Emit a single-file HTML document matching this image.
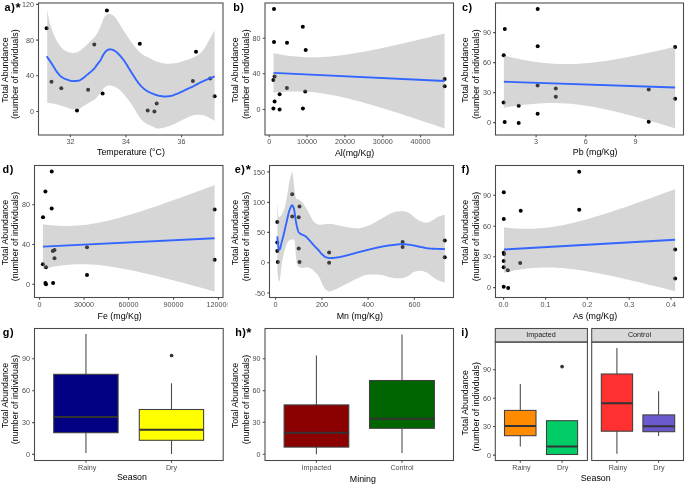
<!DOCTYPE html><html><head><meta charset="utf-8"><style>html,body{margin:0;padding:0;background:#fff;}svg{display:block;will-change:transform;}</style></head><body>
<svg width="685" height="484" viewBox="0 0 685 484" font-family='"Liberation Sans", sans-serif'>
<rect width="685" height="484" fill="#fff"/>
<defs>
<clipPath id="c0"><rect x="0" y="0" width="227.4" height="161.33"/></clipPath>
<clipPath id="c1"><rect x="228.33" y="0" width="228.33" height="161.33"/></clipPath>
<clipPath id="c2"><rect x="456.67" y="0" width="228.33" height="161.33"/></clipPath>
<clipPath id="c3"><rect x="0" y="161.33" width="227.4" height="161.33"/></clipPath>
<clipPath id="c4"><rect x="228.33" y="161.33" width="228.33" height="161.33"/></clipPath>
<clipPath id="c5"><rect x="456.67" y="161.33" width="228.33" height="161.33"/></clipPath>
<clipPath id="c6"><rect x="0" y="322.67" width="227.4" height="161.33"/></clipPath>
<clipPath id="c7"><rect x="228.33" y="322.67" width="228.33" height="161.33"/></clipPath>
<clipPath id="c8"><rect x="456.67" y="322.67" width="228.33" height="161.33"/></clipPath>
</defs>
<g clip-path="url(#c0)">
<circle cx="46.60" cy="28.30" r="2.0" fill="#000"/>
<circle cx="51.50" cy="81.80" r="2.0" fill="#000"/>
<circle cx="61.30" cy="88.30" r="2.0" fill="#000"/>
<circle cx="77.00" cy="110.40" r="2.0" fill="#000"/>
<circle cx="88.10" cy="89.70" r="2.0" fill="#000"/>
<circle cx="94.30" cy="44.60" r="2.0" fill="#000"/>
<circle cx="102.60" cy="93.60" r="2.0" fill="#000"/>
<circle cx="106.90" cy="10.50" r="2.0" fill="#000"/>
<circle cx="139.80" cy="43.80" r="2.0" fill="#000"/>
<circle cx="147.70" cy="110.40" r="2.0" fill="#000"/>
<circle cx="154.40" cy="111.40" r="2.0" fill="#000"/>
<circle cx="156.70" cy="103.40" r="2.0" fill="#000"/>
<circle cx="192.90" cy="81.10" r="2.0" fill="#000"/>
<circle cx="196.00" cy="51.70" r="2.0" fill="#000"/>
<circle cx="210.20" cy="78.50" r="2.0" fill="#000"/>
<circle cx="214.60" cy="96.30" r="2.0" fill="#000"/>
<path d="M47.20,9.50 L47.76,12.95 L48.32,16.11 L48.88,19.05 L49.44,21.73 L50.00,23.92 L50.56,25.71 L51.12,27.29 L51.68,28.81 L52.24,30.39 L52.80,32.01 L53.36,33.60 L53.92,35.06 L54.48,36.37 L55.04,37.58 L55.60,38.73 L56.16,39.80 L56.72,40.81 L57.28,41.77 L57.84,42.68 L58.40,43.54 L58.96,44.36 L59.52,45.12 L60.08,45.82 L60.64,46.49 L61.20,47.15 L61.76,47.78 L62.32,48.37 L62.88,48.92 L63.44,49.42 L64.00,49.86 L64.56,50.24 L65.12,50.60 L65.68,50.93 L66.24,51.25 L66.80,51.53 L67.36,51.78 L67.92,52.00 L68.47,52.17 L69.03,52.31 L69.59,52.44 L70.15,52.56 L70.71,52.68 L71.27,52.77 L71.83,52.84 L72.39,52.89 L72.95,52.90 L73.51,52.88 L74.07,52.84 L74.63,52.77 L75.19,52.68 L75.75,52.57 L76.31,52.44 L76.87,52.31 L77.43,52.16 L77.99,51.94 L78.55,51.64 L79.11,51.27 L79.67,50.85 L80.23,50.40 L80.79,49.94 L81.35,49.49 L81.91,49.06 L82.47,48.62 L83.03,48.15 L83.59,47.67 L84.15,47.18 L84.71,46.68 L85.27,46.17 L85.83,45.66 L86.39,45.15 L86.95,44.61 L87.51,44.07 L88.07,43.52 L88.63,42.96 L89.19,42.41 L89.75,41.85 L90.31,41.29 L90.87,40.74 L91.43,40.20 L91.99,39.66 L92.55,39.11 L93.11,38.55 L93.67,37.95 L94.23,37.33 L94.79,36.71 L95.35,36.05 L95.91,35.36 L96.47,34.59 L97.03,33.74 L97.59,32.75 L98.15,31.65 L98.71,30.48 L99.27,29.25 L99.83,28.02 L100.39,26.71 L100.95,25.34 L101.51,23.94 L102.07,22.50 L102.63,20.91 L103.19,19.41 L103.75,18.22 L104.31,17.21 L104.87,16.32 L105.43,15.62 L105.99,15.18 L106.55,14.82 L107.11,14.49 L107.67,14.22 L108.23,14.00 L108.79,13.86 L109.35,13.80 L109.91,13.84 L110.46,13.98 L111.02,14.20 L111.58,14.47 L112.14,14.79 L112.70,15.12 L113.26,15.47 L113.82,15.93 L114.38,16.49 L114.94,17.14 L115.50,17.84 L116.06,18.59 L116.62,19.37 L117.18,20.14 L117.74,20.93 L118.30,21.80 L118.86,22.73 L119.42,23.70 L119.98,24.68 L120.54,25.66 L121.10,26.62 L121.66,27.54 L122.22,28.42 L122.78,29.28 L123.34,30.13 L123.90,30.97 L124.46,31.81 L125.02,32.64 L125.58,33.48 L126.14,34.31 L126.70,35.15 L127.26,35.99 L127.82,36.83 L128.38,37.67 L128.94,38.49 L129.50,39.31 L130.06,40.12 L130.62,40.91 L131.18,41.70 L131.74,42.47 L132.30,43.25 L132.86,44.01 L133.42,44.75 L133.98,45.48 L134.54,46.20 L135.10,46.90 L135.66,47.60 L136.22,48.29 L136.78,48.97 L137.34,49.63 L137.90,50.26 L138.46,50.86 L139.02,51.42 L139.58,51.95 L140.14,52.46 L140.70,52.96 L141.26,53.43 L141.82,53.88 L142.38,54.30 L142.94,54.70 L143.50,55.06 L144.06,55.39 L144.62,55.70 L145.18,56.00 L145.74,56.27 L146.30,56.54 L146.86,56.80 L147.42,57.05 L147.98,57.31 L148.54,57.57 L149.10,57.85 L149.66,58.13 L150.22,58.43 L150.78,58.73 L151.34,59.04 L151.89,59.34 L152.45,59.64 L153.01,59.94 L153.57,60.21 L154.13,60.48 L154.69,60.72 L155.25,60.94 L155.81,61.16 L156.37,61.38 L156.93,61.59 L157.49,61.79 L158.05,61.99 L158.61,62.18 L159.17,62.36 L159.73,62.52 L160.29,62.67 L160.85,62.81 L161.41,62.93 L161.97,63.03 L162.53,63.13 L163.09,63.22 L163.65,63.32 L164.21,63.40 L164.77,63.49 L165.33,63.56 L165.89,63.61 L166.45,63.66 L167.01,63.69 L167.57,63.70 L168.13,63.70 L168.69,63.69 L169.25,63.67 L169.81,63.64 L170.37,63.61 L170.93,63.58 L171.49,63.54 L172.05,63.50 L172.61,63.46 L173.17,63.41 L173.73,63.36 L174.29,63.29 L174.85,63.21 L175.41,63.11 L175.97,63.01 L176.53,62.89 L177.09,62.77 L177.65,62.64 L178.21,62.51 L178.77,62.38 L179.33,62.24 L179.89,62.10 L180.45,61.94 L181.01,61.77 L181.57,61.60 L182.13,61.41 L182.69,61.23 L183.25,61.04 L183.81,60.85 L184.37,60.67 L184.93,60.49 L185.49,60.32 L186.05,60.16 L186.61,60.00 L187.17,59.84 L187.73,59.67 L188.29,59.51 L188.85,59.34 L189.41,59.16 L189.97,58.97 L190.53,58.77 L191.09,58.55 L191.65,58.31 L192.21,58.07 L192.77,57.80 L193.33,57.53 L193.88,57.25 L194.44,56.95 L195.00,56.65 L195.56,56.33 L196.12,56.02 L196.68,55.69 L197.24,55.37 L197.80,55.04 L198.36,54.70 L198.92,54.34 L199.48,53.95 L200.04,53.53 L200.60,53.07 L201.16,52.56 L201.72,51.96 L202.28,51.29 L202.84,50.57 L203.40,49.79 L203.96,48.97 L204.52,48.13 L205.08,47.28 L205.64,46.39 L206.20,45.43 L206.76,44.42 L207.32,43.37 L207.88,42.31 L208.44,41.26 L209.00,40.24 L209.56,39.21 L210.12,38.19 L210.68,37.16 L211.24,36.14 L211.80,35.14 L212.36,34.17 L212.92,33.22 L213.48,32.29 L214.04,31.39 L214.60,30.50 L214.60,120.80 L214.04,120.47 L213.48,120.14 L212.92,119.82 L212.36,119.50 L211.80,119.19 L211.24,118.88 L210.68,118.58 L210.12,118.28 L209.56,117.97 L209.00,117.67 L208.44,117.37 L207.88,117.09 L207.32,116.82 L206.76,116.57 L206.20,116.33 L205.64,116.08 L205.08,115.83 L204.52,115.59 L203.96,115.38 L203.40,115.20 L202.84,115.07 L202.28,115.00 L201.72,114.96 L201.16,114.93 L200.60,114.90 L200.04,114.88 L199.48,114.86 L198.92,114.84 L198.36,114.82 L197.80,114.81 L197.24,114.80 L196.68,114.80 L196.12,114.81 L195.56,114.86 L195.00,114.94 L194.44,115.06 L193.88,115.20 L193.33,115.36 L192.77,115.53 L192.21,115.71 L191.65,115.90 L191.09,116.08 L190.53,116.26 L189.97,116.45 L189.41,116.66 L188.85,116.88 L188.29,117.12 L187.73,117.37 L187.17,117.63 L186.61,117.89 L186.05,118.16 L185.49,118.43 L184.93,118.69 L184.37,118.95 L183.81,119.22 L183.25,119.50 L182.69,119.78 L182.13,120.06 L181.57,120.35 L181.01,120.64 L180.45,120.92 L179.89,121.21 L179.33,121.49 L178.77,121.76 L178.21,122.04 L177.65,122.32 L177.09,122.60 L176.53,122.88 L175.97,123.16 L175.41,123.43 L174.85,123.70 L174.29,123.96 L173.73,124.21 L173.17,124.46 L172.61,124.69 L172.05,124.93 L171.49,125.16 L170.93,125.39 L170.37,125.62 L169.81,125.83 L169.25,126.04 L168.69,126.24 L168.13,126.43 L167.57,126.61 L167.01,126.78 L166.45,126.96 L165.89,127.13 L165.33,127.29 L164.77,127.45 L164.21,127.60 L163.65,127.74 L163.09,127.86 L162.53,127.98 L161.97,128.07 L161.41,128.16 L160.85,128.24 L160.29,128.32 L159.73,128.40 L159.17,128.46 L158.61,128.52 L158.05,128.56 L157.49,128.59 L156.93,128.60 L156.37,128.51 L155.81,128.29 L155.25,128.00 L154.69,127.67 L154.13,127.33 L153.57,127.03 L153.01,126.78 L152.45,126.54 L151.89,126.30 L151.34,126.07 L150.78,125.83 L150.22,125.60 L149.66,125.35 L149.10,125.09 L148.54,124.83 L147.98,124.55 L147.42,124.25 L146.86,123.94 L146.30,123.62 L145.74,123.28 L145.18,122.92 L144.62,122.53 L144.06,122.12 L143.50,121.68 L142.94,121.19 L142.38,120.65 L141.82,120.05 L141.26,119.41 L140.70,118.73 L140.14,118.02 L139.58,117.28 L139.02,116.52 L138.46,115.71 L137.90,114.82 L137.34,113.87 L136.78,112.89 L136.22,111.89 L135.66,110.91 L135.10,109.95 L134.54,109.04 L133.98,108.16 L133.42,107.29 L132.86,106.42 L132.30,105.57 L131.74,104.74 L131.18,103.92 L130.62,103.11 L130.06,102.32 L129.50,101.55 L128.94,100.79 L128.38,100.05 L127.82,99.32 L127.26,98.59 L126.70,97.88 L126.14,97.18 L125.58,96.47 L125.02,95.77 L124.46,95.06 L123.90,94.36 L123.34,93.69 L122.78,93.04 L122.22,92.43 L121.66,91.86 L121.10,91.33 L120.54,90.82 L119.98,90.32 L119.42,89.85 L118.86,89.40 L118.30,88.98 L117.74,88.59 L117.18,88.23 L116.62,87.87 L116.06,87.53 L115.50,87.19 L114.94,86.88 L114.38,86.60 L113.82,86.36 L113.26,86.17 L112.70,86.03 L112.14,85.89 L111.58,85.77 L111.02,85.65 L110.46,85.55 L109.91,85.47 L109.35,85.42 L108.79,85.40 L108.23,85.44 L107.67,85.57 L107.11,85.79 L106.55,86.09 L105.99,86.44 L105.43,86.84 L104.87,87.26 L104.31,87.71 L103.75,88.27 L103.19,89.05 L102.63,89.95 L102.07,90.83 L101.51,91.58 L100.95,92.29 L100.39,92.99 L99.83,93.67 L99.27,94.35 L98.71,95.04 L98.15,95.79 L97.59,96.55 L97.03,97.28 L96.47,97.94 L95.91,98.48 L95.35,98.92 L94.79,99.32 L94.23,99.67 L93.67,100.01 L93.11,100.36 L92.55,100.69 L91.99,101.02 L91.43,101.33 L90.87,101.64 L90.31,101.95 L89.75,102.26 L89.19,102.57 L88.63,102.90 L88.07,103.24 L87.51,103.58 L86.95,103.93 L86.39,104.28 L85.83,104.63 L85.27,104.98 L84.71,105.34 L84.15,105.69 L83.59,106.04 L83.03,106.38 L82.47,106.75 L81.91,107.17 L81.35,107.60 L80.79,108.02 L80.23,108.40 L79.67,108.71 L79.11,108.92 L78.55,109.01 L77.99,109.07 L77.43,109.11 L76.87,109.16 L76.31,109.19 L75.75,109.22 L75.19,109.25 L74.63,109.27 L74.07,109.29 L73.51,109.30 L72.95,109.30 L72.39,109.28 L71.83,109.21 L71.27,109.10 L70.71,108.96 L70.15,108.78 L69.59,108.59 L69.03,108.37 L68.47,108.15 L67.92,107.92 L67.36,107.70 L66.80,107.48 L66.24,107.27 L65.68,107.09 L65.12,106.92 L64.56,106.74 L64.00,106.57 L63.44,106.39 L62.88,106.21 L62.32,106.03 L61.76,105.86 L61.20,105.68 L60.64,105.51 L60.08,105.35 L59.52,105.18 L58.96,105.02 L58.40,104.87 L57.84,104.72 L57.28,104.57 L56.72,104.42 L56.16,104.27 L55.60,104.13 L55.04,103.99 L54.48,103.85 L53.92,103.73 L53.36,103.62 L52.80,103.52 L52.24,103.42 L51.68,103.34 L51.12,103.25 L50.56,103.17 L50.00,103.09 L49.44,103.02 L48.88,102.95 L48.32,102.90 L47.76,102.84 L47.20,102.80 Z" fill="rgba(153,153,153,0.4)" stroke="none"/>
<path d="M46.60,56.20 L47.16,56.99 L47.72,57.79 L48.29,58.59 L48.85,59.40 L49.41,60.22 L49.97,61.05 L50.53,61.89 L51.09,62.74 L51.66,63.60 L52.22,64.46 L52.78,65.33 L53.34,66.22 L53.90,67.15 L54.47,68.10 L55.03,69.03 L55.59,69.94 L56.15,70.81 L56.71,71.62 L57.28,72.36 L57.84,73.08 L58.40,73.78 L58.96,74.45 L59.52,75.08 L60.08,75.67 L60.65,76.19 L61.21,76.64 L61.77,77.02 L62.33,77.38 L62.89,77.71 L63.46,78.03 L64.02,78.32 L64.58,78.59 L65.14,78.84 L65.70,79.08 L66.27,79.30 L66.83,79.51 L67.39,79.70 L67.95,79.90 L68.51,80.10 L69.07,80.30 L69.64,80.48 L70.20,80.66 L70.76,80.81 L71.32,80.93 L71.88,81.03 L72.45,81.09 L73.01,81.10 L73.57,81.09 L74.13,81.07 L74.69,81.05 L75.26,81.01 L75.82,80.96 L76.38,80.91 L76.94,80.84 L77.50,80.77 L78.06,80.69 L78.63,80.61 L79.19,80.49 L79.75,80.28 L80.31,79.99 L80.87,79.66 L81.44,79.29 L82.00,78.89 L82.56,78.50 L83.12,78.12 L83.68,77.72 L84.25,77.28 L84.81,76.82 L85.37,76.35 L85.93,75.86 L86.49,75.37 L87.05,74.89 L87.62,74.42 L88.18,73.96 L88.74,73.51 L89.30,73.05 L89.86,72.59 L90.43,72.12 L90.99,71.64 L91.55,71.14 L92.11,70.62 L92.67,70.10 L93.24,69.56 L93.80,68.99 L94.36,68.38 L94.92,67.70 L95.48,66.94 L96.04,66.13 L96.61,65.36 L97.17,64.59 L97.73,63.83 L98.29,63.08 L98.85,62.36 L99.42,61.71 L99.98,61.03 L100.54,60.13 L101.10,59.07 L101.66,57.91 L102.23,56.76 L102.79,55.70 L103.35,54.75 L103.91,53.85 L104.47,53.04 L105.03,52.28 L105.60,51.55 L106.16,50.96 L106.72,50.57 L107.28,50.24 L107.84,49.94 L108.41,49.68 L108.97,49.48 L109.53,49.35 L110.09,49.30 L110.65,49.33 L111.22,49.43 L111.78,49.57 L112.34,49.76 L112.90,49.98 L113.46,50.22 L114.02,50.48 L114.59,50.74 L115.15,51.06 L115.71,51.44 L116.27,51.89 L116.83,52.39 L117.40,52.92 L117.96,53.47 L118.52,54.02 L119.08,54.58 L119.64,55.17 L120.21,55.80 L120.77,56.46 L121.33,57.14 L121.89,57.84 L122.45,58.56 L123.01,59.29 L123.58,60.03 L124.14,60.81 L124.70,61.61 L125.26,62.44 L125.82,63.30 L126.39,64.19 L126.95,65.10 L127.51,66.03 L128.07,66.95 L128.63,67.87 L129.20,68.77 L129.76,69.67 L130.32,70.58 L130.88,71.48 L131.44,72.38 L132.00,73.27 L132.57,74.15 L133.13,75.03 L133.69,75.91 L134.25,76.79 L134.81,77.68 L135.38,78.55 L135.94,79.42 L136.50,80.26 L137.06,81.06 L137.62,81.83 L138.19,82.57 L138.75,83.30 L139.31,84.00 L139.87,84.69 L140.43,85.35 L140.99,85.97 L141.56,86.56 L142.12,87.11 L142.68,87.64 L143.24,88.15 L143.80,88.64 L144.37,89.10 L144.93,89.54 L145.49,89.95 L146.05,90.34 L146.61,90.70 L147.18,91.03 L147.74,91.35 L148.30,91.66 L148.86,91.95 L149.42,92.23 L149.98,92.50 L150.55,92.76 L151.11,93.02 L151.67,93.26 L152.23,93.50 L152.79,93.73 L153.36,93.97 L153.92,94.20 L154.48,94.42 L155.04,94.63 L155.60,94.83 L156.17,95.02 L156.73,95.20 L157.29,95.37 L157.85,95.51 L158.41,95.65 L158.97,95.77 L159.54,95.87 L160.10,95.97 L160.66,96.05 L161.22,96.14 L161.78,96.23 L162.35,96.31 L162.91,96.38 L163.47,96.44 L164.03,96.48 L164.59,96.50 L165.16,96.50 L165.72,96.48 L166.28,96.45 L166.84,96.41 L167.40,96.37 L167.96,96.31 L168.53,96.25 L169.09,96.19 L169.65,96.11 L170.21,96.04 L170.77,95.96 L171.34,95.85 L171.90,95.70 L172.46,95.53 L173.02,95.34 L173.58,95.13 L174.15,94.91 L174.71,94.69 L175.27,94.46 L175.83,94.24 L176.39,94.03 L176.95,93.81 L177.52,93.58 L178.08,93.35 L178.64,93.11 L179.20,92.87 L179.76,92.62 L180.33,92.37 L180.89,92.11 L181.45,91.85 L182.01,91.59 L182.57,91.33 L183.14,91.05 L183.70,90.77 L184.26,90.49 L184.82,90.20 L185.38,89.91 L185.94,89.62 L186.51,89.33 L187.07,89.05 L187.63,88.78 L188.19,88.52 L188.75,88.26 L189.32,88.01 L189.88,87.77 L190.44,87.52 L191.00,87.28 L191.56,87.04 L192.13,86.79 L192.69,86.53 L193.25,86.27 L193.81,86.00 L194.37,85.71 L194.93,85.42 L195.50,85.11 L196.06,84.80 L196.62,84.49 L197.18,84.18 L197.74,83.87 L198.31,83.57 L198.87,83.27 L199.43,82.99 L199.99,82.71 L200.55,82.44 L201.12,82.17 L201.68,81.90 L202.24,81.64 L202.80,81.38 L203.36,81.12 L203.92,80.87 L204.49,80.62 L205.05,80.37 L205.61,80.12 L206.17,79.88 L206.73,79.64 L207.30,79.40 L207.86,79.17 L208.42,78.94 L208.98,78.70 L209.54,78.47 L210.11,78.24 L210.67,78.00 L211.23,77.76 L211.79,77.52 L212.35,77.28 L212.91,77.03 L213.48,76.79 L214.04,76.55 L214.60,76.30" fill="none" stroke="#3366FF" stroke-width="1.9" stroke-linejoin="round" stroke-linecap="butt"/>
<rect x="38.50" y="3.00" width="184.50" height="132.00" fill="none" stroke="#4A4A4A" stroke-width="1.07"/>
<line x1="36.20" y1="111.50" x2="38.50" y2="111.50" stroke="#4A4A4A" stroke-width="1.07"/>
<text x="34.10" y="114.10" font-size="7.2" fill="#4D4D4D" text-anchor="end">0</text>
<line x1="36.20" y1="75.80" x2="38.50" y2="75.80" stroke="#4A4A4A" stroke-width="1.07"/>
<text x="34.10" y="78.40" font-size="7.2" fill="#4D4D4D" text-anchor="end">40</text>
<line x1="36.20" y1="40.10" x2="38.50" y2="40.10" stroke="#4A4A4A" stroke-width="1.07"/>
<text x="34.10" y="42.70" font-size="7.2" fill="#4D4D4D" text-anchor="end">80</text>
<line x1="36.20" y1="4.40" x2="38.50" y2="4.40" stroke="#4A4A4A" stroke-width="1.07"/>
<text x="34.10" y="7.00" font-size="7.2" fill="#4D4D4D" text-anchor="end">120</text>
<line x1="70.40" y1="135.00" x2="70.40" y2="137.30" stroke="#4A4A4A" stroke-width="1.07"/>
<text x="70.40" y="144.40" font-size="7.2" fill="#4D4D4D" text-anchor="middle">32</text>
<line x1="126.00" y1="135.00" x2="126.00" y2="137.30" stroke="#4A4A4A" stroke-width="1.07"/>
<text x="126.00" y="144.40" font-size="7.2" fill="#4D4D4D" text-anchor="middle">34</text>
<line x1="181.60" y1="135.00" x2="181.60" y2="137.30" stroke="#4A4A4A" stroke-width="1.07"/>
<text x="181.60" y="144.40" font-size="7.2" fill="#4D4D4D" text-anchor="middle">36</text>
<text transform="translate(8.10,70.15) rotate(-90)" font-size="8.85" fill="#000" text-anchor="middle">Total Abundance</text>
<text transform="translate(18.30,74.15) rotate(-90)" font-size="8.85" fill="#000" text-anchor="middle">(number of individuals)</text>
<text x="131.00" y="155.20" font-size="8.85" fill="#000" text-anchor="middle">Temperature (°C)</text>
<text x="4.60" y="10.60" font-size="10.8" font-weight="bold" fill="#000" letter-spacing="0.55">a)</text>
<text x="15.60" y="11.50" font-size="13.2" font-weight="bold" fill="#000">*</text>
</g>
<g clip-path="url(#c1)">
<circle cx="274.00" cy="9.00" r="2.0" fill="#000"/>
<circle cx="302.80" cy="26.80" r="2.0" fill="#000"/>
<circle cx="274.00" cy="41.90" r="2.0" fill="#000"/>
<circle cx="287.00" cy="42.70" r="2.0" fill="#000"/>
<circle cx="305.70" cy="49.90" r="2.0" fill="#000"/>
<circle cx="274.60" cy="76.50" r="2.0" fill="#000"/>
<circle cx="273.40" cy="80.10" r="2.0" fill="#000"/>
<circle cx="286.90" cy="88.10" r="2.0" fill="#000"/>
<circle cx="305.20" cy="91.60" r="2.0" fill="#000"/>
<circle cx="279.60" cy="94.20" r="2.0" fill="#000"/>
<circle cx="274.60" cy="101.40" r="2.0" fill="#000"/>
<circle cx="273.40" cy="108.50" r="2.0" fill="#000"/>
<circle cx="279.60" cy="109.50" r="2.0" fill="#000"/>
<circle cx="302.90" cy="108.50" r="2.0" fill="#000"/>
<circle cx="444.60" cy="78.90" r="2.0" fill="#000"/>
<circle cx="444.60" cy="86.20" r="2.0" fill="#000"/>
<path d="M273.50,53.16 L276.40,53.73 L279.30,54.26 L282.20,54.76 L285.10,55.22 L288.00,55.63 L290.90,56.01 L293.80,56.33 L296.70,56.62 L299.60,56.85 L302.50,57.04 L305.40,57.18 L308.30,57.27 L311.20,57.31 L314.10,57.31 L317.00,57.26 L319.90,57.16 L322.80,57.03 L325.70,56.85 L328.60,56.63 L331.50,56.37 L334.40,56.08 L337.30,55.76 L340.20,55.41 L343.10,55.03 L346.00,54.62 L348.90,54.19 L351.80,53.74 L354.70,53.26 L357.60,52.77 L360.50,52.26 L363.40,51.73 L366.30,51.19 L369.20,50.63 L372.10,50.06 L375.00,49.48 L377.90,48.89 L380.80,48.29 L383.70,47.68 L386.60,47.06 L389.50,46.43 L392.40,45.79 L395.30,45.15 L398.20,44.50 L401.10,43.84 L404.00,43.18 L406.90,42.51 L409.80,41.84 L412.70,41.16 L415.60,40.48 L418.50,39.80 L421.40,39.11 L424.30,38.42 L427.20,37.72 L430.10,37.02 L433.00,36.32 L435.90,35.61 L438.80,34.90 L441.70,34.19 L444.60,33.48 L444.60,128.52 L441.70,127.53 L438.80,126.55 L435.90,125.57 L433.00,124.59 L430.10,123.61 L427.20,122.63 L424.30,121.66 L421.40,120.70 L418.50,119.73 L415.60,118.77 L412.70,117.82 L409.80,116.86 L406.90,115.92 L404.00,114.98 L401.10,114.04 L398.20,113.11 L395.30,112.18 L392.40,111.27 L389.50,110.35 L386.60,109.45 L383.70,108.56 L380.80,107.67 L377.90,106.79 L375.00,105.93 L372.10,105.07 L369.20,104.23 L366.30,103.40 L363.40,102.58 L360.50,101.78 L357.60,100.99 L354.70,100.22 L351.80,99.48 L348.90,98.75 L346.00,98.04 L343.10,97.36 L340.20,96.71 L337.30,96.08 L334.40,95.48 L331.50,94.92 L328.60,94.39 L325.70,93.90 L322.80,93.44 L319.90,93.03 L317.00,92.66 L314.10,92.33 L311.20,92.06 L308.30,91.82 L305.40,91.64 L302.50,91.50 L299.60,91.42 L296.70,91.38 L293.80,91.39 L290.90,91.44 L288.00,91.54 L285.10,91.68 L282.20,91.86 L279.30,92.09 L276.40,92.34 L273.50,92.64 Z" fill="rgba(153,153,153,0.4)" stroke="none"/>
<path d="M273.50,72.90 L444.60,81.00" fill="none" stroke="#3366FF" stroke-width="1.9" stroke-linejoin="round" stroke-linecap="butt"/>
<rect x="265.00" y="3.00" width="188.50" height="132.00" fill="none" stroke="#4A4A4A" stroke-width="1.07"/>
<line x1="262.70" y1="109.50" x2="265.00" y2="109.50" stroke="#4A4A4A" stroke-width="1.07"/>
<text x="260.60" y="112.10" font-size="7.2" fill="#4D4D4D" text-anchor="end">0</text>
<line x1="262.70" y1="73.80" x2="265.00" y2="73.80" stroke="#4A4A4A" stroke-width="1.07"/>
<text x="260.60" y="76.40" font-size="7.2" fill="#4D4D4D" text-anchor="end">40</text>
<line x1="262.70" y1="38.30" x2="265.00" y2="38.30" stroke="#4A4A4A" stroke-width="1.07"/>
<text x="260.60" y="40.90" font-size="7.2" fill="#4D4D4D" text-anchor="end">80</text>
<line x1="269.20" y1="135.00" x2="269.20" y2="137.30" stroke="#4A4A4A" stroke-width="1.07"/>
<text x="269.20" y="144.40" font-size="7.2" fill="#4D4D4D" text-anchor="middle">0</text>
<line x1="307.05" y1="135.00" x2="307.05" y2="137.30" stroke="#4A4A4A" stroke-width="1.07"/>
<text x="307.05" y="144.40" font-size="7.2" fill="#4D4D4D" text-anchor="middle">10000</text>
<line x1="344.90" y1="135.00" x2="344.90" y2="137.30" stroke="#4A4A4A" stroke-width="1.07"/>
<text x="344.90" y="144.40" font-size="7.2" fill="#4D4D4D" text-anchor="middle">20000</text>
<line x1="382.75" y1="135.00" x2="382.75" y2="137.30" stroke="#4A4A4A" stroke-width="1.07"/>
<text x="382.75" y="144.40" font-size="7.2" fill="#4D4D4D" text-anchor="middle">30000</text>
<line x1="420.60" y1="135.00" x2="420.60" y2="137.30" stroke="#4A4A4A" stroke-width="1.07"/>
<text x="420.60" y="144.40" font-size="7.2" fill="#4D4D4D" text-anchor="middle">40000</text>
<text transform="translate(238.00,70.15) rotate(-90)" font-size="8.85" fill="#000" text-anchor="middle">Total Abundance</text>
<text transform="translate(248.80,74.15) rotate(-90)" font-size="8.85" fill="#000" text-anchor="middle">(number of individuals)</text>
<text x="354.60" y="155.70" font-size="8.85" fill="#000" text-anchor="middle">Al(mg/Kg)</text>
<text x="233.20" y="10.60" font-size="10.8" font-weight="bold" fill="#000" letter-spacing="0.55">b)</text>
</g>
<g clip-path="url(#c2)">
<circle cx="537.70" cy="9.00" r="2.0" fill="#000"/>
<circle cx="504.80" cy="29.10" r="2.0" fill="#000"/>
<circle cx="537.70" cy="46.30" r="2.0" fill="#000"/>
<circle cx="503.70" cy="55.30" r="2.0" fill="#000"/>
<circle cx="537.60" cy="85.40" r="2.0" fill="#000"/>
<circle cx="555.80" cy="88.50" r="2.0" fill="#000"/>
<circle cx="555.80" cy="96.80" r="2.0" fill="#000"/>
<circle cx="503.60" cy="102.60" r="2.0" fill="#000"/>
<circle cx="518.70" cy="105.70" r="2.0" fill="#000"/>
<circle cx="537.60" cy="113.80" r="2.0" fill="#000"/>
<circle cx="504.70" cy="122.00" r="2.0" fill="#000"/>
<circle cx="518.70" cy="122.90" r="2.0" fill="#000"/>
<circle cx="648.70" cy="89.60" r="2.0" fill="#000"/>
<circle cx="675.10" cy="98.70" r="2.0" fill="#000"/>
<circle cx="648.70" cy="121.70" r="2.0" fill="#000"/>
<circle cx="675.10" cy="47.10" r="2.0" fill="#000"/>
<path d="M503.90,55.64 L506.80,56.32 L509.70,56.99 L512.61,57.63 L515.51,58.25 L518.41,58.85 L521.31,59.42 L524.21,59.97 L527.11,60.49 L530.02,60.98 L532.92,61.45 L535.82,61.88 L538.72,62.27 L541.62,62.63 L544.52,62.95 L547.43,63.24 L550.33,63.48 L553.23,63.69 L556.13,63.86 L559.03,63.98 L561.93,64.07 L564.84,64.11 L567.74,64.11 L570.64,64.07 L573.54,63.99 L576.44,63.88 L579.34,63.73 L582.25,63.54 L585.15,63.31 L588.05,63.06 L590.95,62.77 L593.85,62.46 L596.75,62.11 L599.66,61.74 L602.56,61.35 L605.46,60.93 L608.36,60.49 L611.26,60.03 L614.16,59.55 L617.07,59.05 L619.97,58.53 L622.87,58.00 L625.77,57.46 L628.67,56.90 L631.57,56.33 L634.48,55.75 L637.38,55.16 L640.28,54.55 L643.18,53.94 L646.08,53.32 L648.98,52.69 L651.89,52.05 L654.79,51.40 L657.69,50.75 L660.59,50.09 L663.49,49.42 L666.39,48.75 L669.30,48.07 L672.20,47.39 L675.10,46.70 L675.10,128.30 L672.20,127.41 L669.30,126.53 L666.39,125.66 L663.49,124.79 L660.59,123.93 L657.69,123.07 L654.79,122.22 L651.89,121.38 L648.98,120.54 L646.08,119.72 L643.18,118.90 L640.28,118.09 L637.38,117.29 L634.48,116.50 L631.57,115.72 L628.67,114.95 L625.77,114.20 L622.87,113.46 L619.97,112.73 L617.07,112.02 L614.16,111.32 L611.26,110.65 L608.36,109.99 L605.46,109.35 L602.56,108.74 L599.66,108.15 L596.75,107.58 L593.85,107.04 L590.95,106.53 L588.05,106.04 L585.15,105.59 L582.25,105.17 L579.34,104.79 L576.44,104.44 L573.54,104.12 L570.64,103.85 L567.74,103.62 L564.84,103.42 L561.93,103.27 L559.03,103.15 L556.13,103.08 L553.23,103.05 L550.33,103.06 L547.43,103.11 L544.52,103.20 L541.62,103.33 L538.72,103.49 L535.82,103.69 L532.92,103.92 L530.02,104.18 L527.11,104.48 L524.21,104.80 L521.31,105.16 L518.41,105.53 L515.51,105.94 L512.61,106.36 L509.70,106.81 L506.80,107.27 L503.90,107.76 Z" fill="rgba(153,153,153,0.4)" stroke="none"/>
<path d="M503.90,81.70 L675.10,87.50" fill="none" stroke="#3366FF" stroke-width="1.9" stroke-linejoin="round" stroke-linecap="butt"/>
<rect x="495.50" y="3.00" width="188.00" height="132.00" fill="none" stroke="#4A4A4A" stroke-width="1.07"/>
<line x1="493.20" y1="122.60" x2="495.50" y2="122.60" stroke="#4A4A4A" stroke-width="1.07"/>
<text x="491.10" y="125.20" font-size="7.2" fill="#4D4D4D" text-anchor="end">0</text>
<line x1="493.20" y1="92.60" x2="495.50" y2="92.60" stroke="#4A4A4A" stroke-width="1.07"/>
<text x="491.10" y="95.20" font-size="7.2" fill="#4D4D4D" text-anchor="end">30</text>
<line x1="493.20" y1="62.60" x2="495.50" y2="62.60" stroke="#4A4A4A" stroke-width="1.07"/>
<text x="491.10" y="65.20" font-size="7.2" fill="#4D4D4D" text-anchor="end">60</text>
<line x1="493.20" y1="32.60" x2="495.50" y2="32.60" stroke="#4A4A4A" stroke-width="1.07"/>
<text x="491.10" y="35.20" font-size="7.2" fill="#4D4D4D" text-anchor="end">90</text>
<line x1="536.10" y1="135.00" x2="536.10" y2="137.30" stroke="#4A4A4A" stroke-width="1.07"/>
<text x="536.10" y="144.40" font-size="7.2" fill="#4D4D4D" text-anchor="middle">3</text>
<line x1="585.80" y1="135.00" x2="585.80" y2="137.30" stroke="#4A4A4A" stroke-width="1.07"/>
<text x="585.80" y="144.40" font-size="7.2" fill="#4D4D4D" text-anchor="middle">6</text>
<line x1="635.40" y1="135.00" x2="635.40" y2="137.30" stroke="#4A4A4A" stroke-width="1.07"/>
<text x="635.40" y="144.40" font-size="7.2" fill="#4D4D4D" text-anchor="middle">9</text>
<text transform="translate(468.40,70.15) rotate(-90)" font-size="8.85" fill="#000" text-anchor="middle">Total Abundance</text>
<text transform="translate(478.60,74.15) rotate(-90)" font-size="8.85" fill="#000" text-anchor="middle">(number of individuals)</text>
<text x="595.20" y="155.00" font-size="8.85" fill="#000" text-anchor="middle">Pb (mg/Kg)</text>
<text x="462.00" y="10.60" font-size="10.8" font-weight="bold" fill="#000" letter-spacing="0.55">c)</text>
</g>
<g clip-path="url(#c3)">
<circle cx="51.70" cy="171.60" r="2.0" fill="#000"/>
<circle cx="45.40" cy="191.40" r="2.0" fill="#000"/>
<circle cx="51.70" cy="208.50" r="2.0" fill="#000"/>
<circle cx="43.00" cy="217.30" r="2.0" fill="#000"/>
<circle cx="87.00" cy="247.30" r="2.0" fill="#000"/>
<circle cx="52.80" cy="250.90" r="2.0" fill="#000"/>
<circle cx="54.50" cy="250.10" r="2.0" fill="#000"/>
<circle cx="54.50" cy="258.20" r="2.0" fill="#000"/>
<circle cx="42.90" cy="264.20" r="2.0" fill="#000"/>
<circle cx="46.00" cy="267.20" r="2.0" fill="#000"/>
<circle cx="87.00" cy="275.10" r="2.0" fill="#000"/>
<circle cx="45.40" cy="282.90" r="2.0" fill="#000"/>
<circle cx="46.00" cy="284.20" r="2.0" fill="#000"/>
<circle cx="53.10" cy="283.00" r="2.0" fill="#000"/>
<circle cx="214.60" cy="209.40" r="2.0" fill="#000"/>
<circle cx="214.60" cy="259.80" r="2.0" fill="#000"/>
<path d="M42.90,224.29 L45.81,224.65 L48.72,224.97 L51.63,225.25 L54.54,225.49 L57.45,225.68 L60.36,225.82 L63.27,225.92 L66.18,225.96 L69.09,225.94 L72.00,225.87 L74.91,225.75 L77.82,225.57 L80.73,225.33 L83.64,225.04 L86.55,224.69 L89.46,224.29 L92.37,223.85 L95.28,223.35 L98.19,222.82 L101.10,222.23 L104.01,221.61 L106.92,220.96 L109.83,220.26 L112.74,219.54 L115.65,218.79 L118.56,218.00 L121.47,217.20 L124.38,216.37 L127.29,215.52 L130.21,214.65 L133.12,213.76 L136.03,212.85 L138.94,211.93 L141.85,211.00 L144.76,210.05 L147.67,209.09 L150.58,208.12 L153.49,207.14 L156.40,206.15 L159.31,205.15 L162.22,204.14 L165.13,203.12 L168.04,202.10 L170.95,201.07 L173.86,200.04 L176.77,199.00 L179.68,197.95 L182.59,196.90 L185.50,195.84 L188.41,194.78 L191.32,193.72 L194.23,192.65 L197.14,191.58 L200.05,190.50 L202.96,189.42 L205.87,188.34 L208.78,187.26 L211.69,186.17 L214.60,185.08 L214.60,291.52 L211.69,290.71 L208.78,289.91 L205.87,289.10 L202.96,288.30 L200.05,287.51 L197.14,286.71 L194.23,285.92 L191.32,285.13 L188.41,284.35 L185.50,283.57 L182.59,282.80 L179.68,282.03 L176.77,281.26 L173.86,280.50 L170.95,279.75 L168.04,279.00 L165.13,278.26 L162.22,277.52 L159.31,276.80 L156.40,276.08 L153.49,275.37 L150.58,274.67 L147.67,273.98 L144.76,273.30 L141.85,272.64 L138.94,271.98 L136.03,271.34 L133.12,270.72 L130.21,270.11 L127.29,269.52 L124.38,268.95 L121.47,268.41 L118.56,267.88 L115.65,267.38 L112.74,266.91 L109.83,266.47 L106.92,266.05 L104.01,265.68 L101.10,265.34 L98.19,265.04 L95.28,264.78 L92.37,264.57 L89.46,264.40 L86.55,264.29 L83.64,264.22 L80.73,264.21 L77.82,264.26 L74.91,264.36 L72.00,264.51 L69.09,264.73 L66.18,264.99 L63.27,265.31 L60.36,265.69 L57.45,266.11 L54.54,266.58 L51.63,267.10 L48.72,267.67 L45.81,268.27 L42.90,268.91 Z" fill="rgba(153,153,153,0.4)" stroke="none"/>
<path d="M42.90,246.60 L214.60,238.30" fill="none" stroke="#3366FF" stroke-width="1.9" stroke-linejoin="round" stroke-linecap="butt"/>
<rect x="34.50" y="165.50" width="188.50" height="132.00" fill="none" stroke="#4A4A4A" stroke-width="1.07"/>
<line x1="32.20" y1="284.20" x2="34.50" y2="284.20" stroke="#4A4A4A" stroke-width="1.07"/>
<text x="30.10" y="286.80" font-size="7.2" fill="#4D4D4D" text-anchor="end">0</text>
<line x1="32.20" y1="244.50" x2="34.50" y2="244.50" stroke="#4A4A4A" stroke-width="1.07"/>
<text x="30.10" y="247.10" font-size="7.2" fill="#4D4D4D" text-anchor="end">40</text>
<line x1="32.20" y1="204.80" x2="34.50" y2="204.80" stroke="#4A4A4A" stroke-width="1.07"/>
<text x="30.10" y="207.40" font-size="7.2" fill="#4D4D4D" text-anchor="end">80</text>
<line x1="39.60" y1="297.50" x2="39.60" y2="299.80" stroke="#4A4A4A" stroke-width="1.07"/>
<text x="39.60" y="306.90" font-size="7.2" fill="#4D4D4D" text-anchor="middle">0</text>
<line x1="84.10" y1="297.50" x2="84.10" y2="299.80" stroke="#4A4A4A" stroke-width="1.07"/>
<text x="84.10" y="306.90" font-size="7.2" fill="#4D4D4D" text-anchor="middle">30000</text>
<line x1="128.60" y1="297.50" x2="128.60" y2="299.80" stroke="#4A4A4A" stroke-width="1.07"/>
<text x="128.60" y="306.90" font-size="7.2" fill="#4D4D4D" text-anchor="middle">60000</text>
<line x1="173.60" y1="297.50" x2="173.60" y2="299.80" stroke="#4A4A4A" stroke-width="1.07"/>
<text x="173.60" y="306.90" font-size="7.2" fill="#4D4D4D" text-anchor="middle">90000</text>
<line x1="218.40" y1="297.50" x2="218.40" y2="299.80" stroke="#4A4A4A" stroke-width="1.07"/>
<text x="218.40" y="306.90" font-size="7.2" fill="#4D4D4D" text-anchor="middle">120000</text>
<text transform="translate(8.10,232.55) rotate(-90)" font-size="8.85" fill="#000" text-anchor="middle">Total Abundance</text>
<text transform="translate(18.30,236.55) rotate(-90)" font-size="8.85" fill="#000" text-anchor="middle">(number of individuals)</text>
<text x="119.70" y="318.60" font-size="8.85" fill="#000" text-anchor="middle">Fe (mg/Kg)</text>
<text x="2.60" y="172.60" font-size="10.8" font-weight="bold" fill="#000" letter-spacing="0.55">d)</text>
</g>
<g clip-path="url(#c4)">
<circle cx="292.20" cy="194.20" r="2.0" fill="#000"/>
<circle cx="299.50" cy="206.50" r="2.0" fill="#000"/>
<circle cx="292.20" cy="216.60" r="2.0" fill="#000"/>
<circle cx="298.70" cy="217.30" r="2.0" fill="#000"/>
<circle cx="277.30" cy="222.10" r="2.0" fill="#000"/>
<circle cx="277.30" cy="242.60" r="2.0" fill="#000"/>
<circle cx="277.30" cy="250.90" r="2.0" fill="#000"/>
<circle cx="277.80" cy="262.10" r="2.0" fill="#000"/>
<circle cx="298.70" cy="248.40" r="2.0" fill="#000"/>
<circle cx="299.50" cy="262.10" r="2.0" fill="#000"/>
<circle cx="329.10" cy="252.60" r="2.0" fill="#000"/>
<circle cx="329.10" cy="262.70" r="2.0" fill="#000"/>
<circle cx="402.60" cy="242.10" r="2.0" fill="#000"/>
<circle cx="402.60" cy="246.90" r="2.0" fill="#000"/>
<circle cx="444.70" cy="240.50" r="2.0" fill="#000"/>
<circle cx="444.70" cy="257.30" r="2.0" fill="#000"/>
<path d="M277.30,202.10 L277.58,207.05 L277.86,211.70 L278.14,215.32 L278.42,217.19 L278.70,217.28 L278.98,217.20 L279.26,217.07 L279.54,216.90 L279.82,216.69 L280.10,216.45 L280.38,216.20 L280.66,215.94 L280.94,215.67 L281.21,215.34 L281.49,214.96 L281.77,214.54 L282.05,214.07 L282.33,213.57 L282.61,213.02 L282.89,212.43 L283.17,211.81 L283.45,211.16 L283.73,210.47 L284.01,209.67 L284.29,208.78 L284.57,207.79 L284.85,206.71 L285.13,205.56 L285.41,204.35 L285.69,203.08 L285.97,201.77 L286.25,200.43 L286.53,199.06 L286.81,197.55 L287.09,195.85 L287.37,194.02 L287.65,192.15 L287.93,190.28 L288.21,188.48 L288.49,186.82 L288.76,185.33 L289.04,183.88 L289.32,182.47 L289.60,181.11 L289.88,179.80 L290.16,178.57 L290.44,177.42 L290.72,176.37 L291.00,175.36 L291.28,174.29 L291.56,173.29 L291.84,172.52 L292.12,172.12 L292.40,172.40 L292.68,173.66 L292.96,175.63 L293.24,177.99 L293.52,180.43 L293.80,182.71 L294.08,185.46 L294.36,188.54 L294.64,191.48 L294.92,193.86 L295.20,195.31 L295.48,196.41 L295.76,197.37 L296.04,198.16 L296.32,198.71 L296.59,199.00 L296.87,199.11 L297.15,199.19 L297.43,199.24 L297.71,199.29 L297.99,199.33 L298.27,199.38 L298.55,199.45 L298.83,199.55 L299.11,199.68 L299.39,199.84 L299.67,200.03 L299.95,200.23 L300.23,200.45 L300.51,200.68 L300.79,200.91 L301.07,201.14 L301.35,201.39 L301.63,201.66 L301.91,201.94 L302.19,202.23 L302.47,202.54 L302.75,202.87 L303.03,203.21 L303.31,203.57 L303.59,203.95 L303.87,204.36 L304.14,204.79 L304.42,205.24 L304.70,205.70 L304.98,206.17 L305.26,206.64 L305.54,207.12 L305.82,207.60 L306.10,208.07 L306.38,208.55 L306.66,209.04 L306.94,209.54 L307.22,210.04 L307.50,210.55 L307.78,211.06 L308.06,211.57 L308.34,212.09 L308.62,212.61 L308.90,213.12 L309.18,213.63 L309.46,214.14 L309.74,214.65 L310.02,215.18 L310.30,215.73 L310.58,216.30 L310.86,216.86 L311.14,217.43 L311.42,217.99 L311.69,218.53 L311.97,219.06 L312.25,219.55 L312.53,220.00 L312.81,220.41 L313.09,220.78 L313.37,221.09 L313.65,221.39 L313.93,221.68 L314.21,221.95 L314.49,222.21 L314.77,222.46 L315.05,222.69 L315.33,222.91 L315.61,223.11 L315.89,223.30 L316.17,223.47 L316.45,223.63 L316.73,223.77 L317.01,223.89 L317.29,224.02 L317.57,224.14 L317.85,224.26 L318.13,224.38 L318.41,224.48 L318.69,224.57 L318.97,224.66 L319.24,224.72 L319.52,224.77 L319.80,224.79 L320.08,224.80 L320.36,224.79 L320.64,224.77 L320.92,224.75 L321.20,224.72 L321.48,224.68 L321.76,224.64 L322.04,224.60 L322.32,224.55 L322.60,224.50 L322.88,224.46 L323.16,224.42 L323.44,224.38 L323.72,224.34 L324.00,224.31 L324.28,224.28 L324.56,224.26 L324.84,224.23 L325.12,224.21 L325.40,224.18 L325.68,224.16 L325.96,224.13 L326.24,224.11 L326.52,224.08 L326.79,224.06 L327.07,224.04 L327.35,224.01 L327.63,223.99 L327.91,223.98 L328.19,223.96 L328.47,223.94 L328.75,223.93 L329.03,223.92 L329.31,223.91 L329.59,223.90 L329.87,223.90 L330.15,223.90 L330.43,223.90 L330.71,223.91 L330.99,223.93 L331.27,223.95 L331.55,223.98 L331.83,224.01 L332.11,224.05 L332.39,224.09 L332.67,224.13 L332.95,224.18 L333.23,224.23 L333.51,224.28 L333.79,224.34 L334.07,224.40 L334.35,224.46 L334.62,224.52 L334.90,224.58 L335.18,224.64 L335.46,224.71 L335.74,224.77 L336.02,224.84 L336.30,224.90 L336.58,224.96 L336.86,225.03 L337.14,225.09 L337.42,225.15 L337.70,225.20 L337.98,225.26 L338.26,225.31 L338.54,225.36 L338.82,225.42 L339.10,225.47 L339.38,225.53 L339.66,225.59 L339.94,225.64 L340.22,225.70 L340.50,225.76 L340.78,225.82 L341.06,225.88 L341.34,225.95 L341.62,226.01 L341.90,226.07 L342.17,226.13 L342.45,226.19 L342.73,226.25 L343.01,226.32 L343.29,226.38 L343.57,226.44 L343.85,226.50 L344.13,226.56 L344.41,226.62 L344.69,226.67 L344.97,226.73 L345.25,226.79 L345.53,226.84 L345.81,226.89 L346.09,226.95 L346.37,227.00 L346.65,227.05 L346.93,227.09 L347.21,227.14 L347.49,227.18 L347.77,227.23 L348.05,227.27 L348.33,227.30 L348.61,227.34 L348.89,227.38 L349.17,227.42 L349.45,227.45 L349.72,227.49 L350.00,227.53 L350.28,227.57 L350.56,227.61 L350.84,227.64 L351.12,227.68 L351.40,227.72 L351.68,227.76 L351.96,227.79 L352.24,227.83 L352.52,227.86 L352.80,227.90 L353.08,227.93 L353.36,227.96 L353.64,227.99 L353.92,228.02 L354.20,228.05 L354.48,228.08 L354.76,228.11 L355.04,228.13 L355.32,228.16 L355.60,228.18 L355.88,228.20 L356.16,228.22 L356.44,228.24 L356.72,228.25 L357.00,228.27 L357.27,228.28 L357.55,228.29 L357.83,228.29 L358.11,228.30 L358.39,228.30 L358.67,228.30 L358.95,228.29 L359.23,228.26 L359.51,228.23 L359.79,228.20 L360.07,228.15 L360.35,228.09 L360.63,228.03 L360.91,227.97 L361.19,227.90 L361.47,227.82 L361.75,227.74 L362.03,227.66 L362.31,227.57 L362.59,227.49 L362.87,227.40 L363.15,227.31 L363.43,227.22 L363.71,227.14 L363.99,227.05 L364.27,226.97 L364.55,226.89 L364.83,226.81 L365.10,226.72 L365.38,226.64 L365.66,226.55 L365.94,226.46 L366.22,226.37 L366.50,226.28 L366.78,226.18 L367.06,226.09 L367.34,225.99 L367.62,225.89 L367.90,225.79 L368.18,225.68 L368.46,225.57 L368.74,225.47 L369.02,225.36 L369.30,225.24 L369.58,225.13 L369.86,225.02 L370.14,224.90 L370.42,224.78 L370.70,224.66 L370.98,224.53 L371.26,224.40 L371.54,224.27 L371.82,224.13 L372.10,223.99 L372.38,223.85 L372.65,223.70 L372.93,223.55 L373.21,223.40 L373.49,223.24 L373.77,223.09 L374.05,222.93 L374.33,222.76 L374.61,222.60 L374.89,222.44 L375.17,222.27 L375.45,222.11 L375.73,221.94 L376.01,221.77 L376.29,221.61 L376.57,221.44 L376.85,221.27 L377.13,221.11 L377.41,220.94 L377.69,220.78 L377.97,220.62 L378.25,220.46 L378.53,220.30 L378.81,220.14 L379.09,219.98 L379.37,219.83 L379.65,219.67 L379.93,219.51 L380.20,219.35 L380.48,219.19 L380.76,219.03 L381.04,218.87 L381.32,218.72 L381.60,218.56 L381.88,218.40 L382.16,218.24 L382.44,218.08 L382.72,217.92 L383.00,217.76 L383.28,217.61 L383.56,217.45 L383.84,217.29 L384.12,217.13 L384.40,216.97 L384.68,216.81 L384.96,216.65 L385.24,216.48 L385.52,216.31 L385.80,216.15 L386.08,215.98 L386.36,215.81 L386.64,215.64 L386.92,215.48 L387.20,215.31 L387.48,215.15 L387.75,214.99 L388.03,214.83 L388.31,214.68 L388.59,214.53 L388.87,214.38 L389.15,214.24 L389.43,214.10 L389.71,213.97 L389.99,213.85 L390.27,213.73 L390.55,213.61 L390.83,213.48 L391.11,213.36 L391.39,213.24 L391.67,213.12 L391.95,213.00 L392.23,212.89 L392.51,212.77 L392.79,212.66 L393.07,212.56 L393.35,212.45 L393.63,212.35 L393.91,212.25 L394.19,212.16 L394.47,212.08 L394.75,212.00 L395.03,211.92 L395.31,211.85 L395.58,211.79 L395.86,211.74 L396.14,211.69 L396.42,211.65 L396.70,211.61 L396.98,211.57 L397.26,211.53 L397.54,211.49 L397.82,211.45 L398.10,211.41 L398.38,211.37 L398.66,211.34 L398.94,211.31 L399.22,211.28 L399.50,211.25 L399.78,211.22 L400.06,211.19 L400.34,211.17 L400.62,211.15 L400.90,211.14 L401.18,211.12 L401.46,211.11 L401.74,211.10 L402.02,211.10 L402.30,211.10 L402.58,211.11 L402.86,211.12 L403.13,211.15 L403.41,211.18 L403.69,211.21 L403.97,211.26 L404.25,211.31 L404.53,211.36 L404.81,211.42 L405.09,211.49 L405.37,211.56 L405.65,211.64 L405.93,211.72 L406.21,211.80 L406.49,211.89 L406.77,211.97 L407.05,212.07 L407.33,212.16 L407.61,212.26 L407.89,212.35 L408.17,212.45 L408.45,212.56 L408.73,212.68 L409.01,212.82 L409.29,212.99 L409.57,213.17 L409.85,213.37 L410.13,213.58 L410.41,213.80 L410.68,214.04 L410.96,214.28 L411.24,214.53 L411.52,214.79 L411.80,215.04 L412.08,215.30 L412.36,215.56 L412.64,215.82 L412.92,216.07 L413.20,216.32 L413.48,216.56 L413.76,216.79 L414.04,217.01 L414.32,217.21 L414.60,217.42 L414.88,217.62 L415.16,217.83 L415.44,218.04 L415.72,218.25 L416.00,218.47 L416.28,218.68 L416.56,218.89 L416.84,219.10 L417.12,219.30 L417.40,219.50 L417.68,219.70 L417.96,219.89 L418.23,220.08 L418.51,220.26 L418.79,220.42 L419.07,220.59 L419.35,220.74 L419.63,220.88 L419.91,221.01 L420.19,221.12 L420.47,221.23 L420.75,221.33 L421.03,221.43 L421.31,221.53 L421.59,221.62 L421.87,221.72 L422.15,221.82 L422.43,221.91 L422.71,222.00 L422.99,222.09 L423.27,222.17 L423.55,222.25 L423.83,222.32 L424.11,222.39 L424.39,222.46 L424.67,222.51 L424.95,222.56 L425.23,222.61 L425.51,222.64 L425.78,222.67 L426.06,222.69 L426.34,222.70 L426.62,222.70 L426.90,222.68 L427.18,222.65 L427.46,222.60 L427.74,222.53 L428.02,222.45 L428.30,222.36 L428.58,222.25 L428.86,222.14 L429.14,222.02 L429.42,221.88 L429.70,221.75 L429.98,221.60 L430.26,221.46 L430.54,221.30 L430.82,221.15 L431.10,221.00 L431.38,220.84 L431.66,220.69 L431.94,220.54 L432.22,220.39 L432.50,220.25 L432.78,220.11 L433.06,219.96 L433.34,219.81 L433.61,219.64 L433.89,219.47 L434.17,219.29 L434.45,219.11 L434.73,218.92 L435.01,218.73 L435.29,218.54 L435.57,218.35 L435.85,218.16 L436.13,217.97 L436.41,217.79 L436.69,217.61 L436.97,217.43 L437.25,217.27 L437.53,217.11 L437.81,216.96 L438.09,216.82 L438.37,216.70 L438.65,216.58 L438.93,216.47 L439.21,216.36 L439.49,216.26 L439.77,216.16 L440.05,216.05 L440.33,215.95 L440.61,215.86 L440.89,215.76 L441.16,215.67 L441.44,215.58 L441.72,215.49 L442.00,215.41 L442.28,215.33 L442.56,215.25 L442.84,215.18 L443.12,215.11 L443.40,215.05 L443.68,214.99 L443.96,214.93 L444.24,214.88 L444.52,214.84 L444.80,214.80 L444.80,282.50 L444.52,282.45 L444.24,282.39 L443.96,282.33 L443.68,282.26 L443.40,282.19 L443.12,282.12 L442.84,282.04 L442.56,281.96 L442.28,281.87 L442.00,281.78 L441.72,281.69 L441.44,281.60 L441.16,281.50 L440.89,281.40 L440.61,281.30 L440.33,281.19 L440.05,281.09 L439.77,280.98 L439.49,280.87 L439.21,280.75 L438.93,280.64 L438.65,280.52 L438.37,280.40 L438.09,280.27 L437.81,280.14 L437.53,280.00 L437.25,279.85 L436.97,279.70 L436.69,279.54 L436.41,279.38 L436.13,279.21 L435.85,279.04 L435.57,278.86 L435.29,278.69 L435.01,278.51 L434.73,278.32 L434.45,278.14 L434.17,277.95 L433.89,277.76 L433.61,277.58 L433.34,277.39 L433.06,277.20 L432.78,277.02 L432.50,276.83 L432.22,276.63 L431.94,276.43 L431.66,276.21 L431.38,275.99 L431.10,275.76 L430.82,275.52 L430.54,275.29 L430.26,275.05 L429.98,274.81 L429.70,274.57 L429.42,274.33 L429.14,274.10 L428.86,273.87 L428.58,273.65 L428.30,273.44 L428.02,273.24 L427.74,273.06 L427.46,272.88 L427.18,272.72 L426.90,272.58 L426.62,272.45 L426.34,272.34 L426.06,272.23 L425.78,272.12 L425.51,272.02 L425.23,271.91 L424.95,271.81 L424.67,271.71 L424.39,271.61 L424.11,271.51 L423.83,271.42 L423.55,271.33 L423.27,271.25 L422.99,271.18 L422.71,271.10 L422.43,271.04 L422.15,270.98 L421.87,270.93 L421.59,270.89 L421.31,270.85 L421.03,270.83 L420.75,270.81 L420.47,270.80 L420.19,270.80 L419.91,270.81 L419.63,270.82 L419.35,270.84 L419.07,270.86 L418.79,270.89 L418.51,270.92 L418.23,270.96 L417.96,271.00 L417.68,271.04 L417.40,271.09 L417.12,271.14 L416.84,271.20 L416.56,271.25 L416.28,271.31 L416.00,271.38 L415.72,271.44 L415.44,271.51 L415.16,271.58 L414.88,271.65 L414.60,271.72 L414.32,271.79 L414.04,271.88 L413.76,271.99 L413.48,272.12 L413.20,272.28 L412.92,272.45 L412.64,272.64 L412.36,272.84 L412.08,273.06 L411.80,273.28 L411.52,273.51 L411.24,273.74 L410.96,273.98 L410.68,274.21 L410.41,274.45 L410.13,274.68 L409.85,274.90 L409.57,275.11 L409.29,275.31 L409.01,275.50 L408.73,275.67 L408.45,275.83 L408.17,275.96 L407.89,276.10 L407.61,276.23 L407.33,276.37 L407.05,276.50 L406.77,276.63 L406.49,276.77 L406.21,276.90 L405.93,277.02 L405.65,277.15 L405.37,277.26 L405.09,277.38 L404.81,277.49 L404.53,277.59 L404.25,277.68 L403.97,277.77 L403.69,277.85 L403.41,277.92 L403.13,277.98 L402.86,278.03 L402.58,278.07 L402.30,278.09 L402.02,278.11 L401.74,278.13 L401.46,278.14 L401.18,278.16 L400.90,278.17 L400.62,278.19 L400.34,278.20 L400.06,278.21 L399.78,278.22 L399.50,278.23 L399.22,278.24 L398.94,278.25 L398.66,278.26 L398.38,278.27 L398.10,278.28 L397.82,278.28 L397.54,278.29 L397.26,278.29 L396.98,278.30 L396.70,278.30 L396.42,278.30 L396.14,278.30 L395.86,278.30 L395.58,278.29 L395.31,278.27 L395.03,278.25 L394.75,278.22 L394.47,278.18 L394.19,278.14 L393.91,278.10 L393.63,278.05 L393.35,278.00 L393.07,277.95 L392.79,277.89 L392.51,277.83 L392.23,277.77 L391.95,277.71 L391.67,277.64 L391.39,277.58 L391.11,277.52 L390.83,277.46 L390.55,277.40 L390.27,277.34 L389.99,277.28 L389.71,277.22 L389.43,277.15 L389.15,277.08 L388.87,277.01 L388.59,276.93 L388.31,276.85 L388.03,276.77 L387.75,276.68 L387.48,276.60 L387.20,276.51 L386.92,276.42 L386.64,276.33 L386.36,276.24 L386.08,276.16 L385.80,276.07 L385.52,275.98 L385.24,275.90 L384.96,275.82 L384.68,275.74 L384.40,275.67 L384.12,275.59 L383.84,275.53 L383.56,275.46 L383.28,275.40 L383.00,275.35 L382.72,275.30 L382.44,275.26 L382.16,275.21 L381.88,275.17 L381.60,275.13 L381.32,275.08 L381.04,275.04 L380.76,274.99 L380.48,274.95 L380.20,274.91 L379.93,274.87 L379.65,274.82 L379.37,274.79 L379.09,274.75 L378.81,274.71 L378.53,274.67 L378.25,274.64 L377.97,274.61 L377.69,274.58 L377.41,274.55 L377.13,274.52 L376.85,274.50 L376.57,274.48 L376.29,274.46 L376.01,274.44 L375.73,274.43 L375.45,274.42 L375.17,274.41 L374.89,274.40 L374.61,274.40 L374.33,274.40 L374.05,274.40 L373.77,274.41 L373.49,274.41 L373.21,274.42 L372.93,274.43 L372.65,274.44 L372.38,274.45 L372.10,274.46 L371.82,274.47 L371.54,274.49 L371.26,274.50 L370.98,274.52 L370.70,274.54 L370.42,274.56 L370.14,274.58 L369.86,274.60 L369.58,274.62 L369.30,274.64 L369.02,274.66 L368.74,274.69 L368.46,274.71 L368.18,274.74 L367.90,274.77 L367.62,274.79 L367.34,274.82 L367.06,274.85 L366.78,274.88 L366.50,274.91 L366.22,274.95 L365.94,274.99 L365.66,275.05 L365.38,275.11 L365.10,275.18 L364.83,275.26 L364.55,275.34 L364.27,275.43 L363.99,275.52 L363.71,275.62 L363.43,275.73 L363.15,275.84 L362.87,275.95 L362.59,276.07 L362.31,276.19 L362.03,276.31 L361.75,276.43 L361.47,276.56 L361.19,276.69 L360.91,276.82 L360.63,276.94 L360.35,277.07 L360.07,277.20 L359.79,277.33 L359.51,277.46 L359.23,277.58 L358.95,277.71 L358.67,277.83 L358.39,277.94 L358.11,278.06 L357.83,278.18 L357.55,278.31 L357.27,278.43 L357.00,278.56 L356.72,278.69 L356.44,278.82 L356.16,278.95 L355.88,279.08 L355.60,279.21 L355.32,279.35 L355.04,279.48 L354.76,279.62 L354.48,279.76 L354.20,279.90 L353.92,280.03 L353.64,280.17 L353.36,280.32 L353.08,280.46 L352.80,280.60 L352.52,280.74 L352.24,280.89 L351.96,281.03 L351.68,281.17 L351.40,281.32 L351.12,281.46 L350.84,281.60 L350.56,281.75 L350.28,281.89 L350.00,282.03 L349.72,282.18 L349.45,282.32 L349.17,282.46 L348.89,282.60 L348.61,282.75 L348.33,282.89 L348.05,283.03 L347.77,283.17 L347.49,283.31 L347.21,283.45 L346.93,283.59 L346.65,283.74 L346.37,283.88 L346.09,284.03 L345.81,284.17 L345.53,284.31 L345.25,284.46 L344.97,284.60 L344.69,284.75 L344.41,284.89 L344.13,285.04 L343.85,285.18 L343.57,285.33 L343.29,285.47 L343.01,285.62 L342.73,285.76 L342.45,285.90 L342.17,286.05 L341.90,286.19 L341.62,286.33 L341.34,286.48 L341.06,286.62 L340.78,286.76 L340.50,286.90 L340.22,287.04 L339.94,287.18 L339.66,287.33 L339.38,287.48 L339.10,287.63 L338.82,287.78 L338.54,287.93 L338.26,288.08 L337.98,288.23 L337.70,288.38 L337.42,288.53 L337.14,288.67 L336.86,288.82 L336.58,288.96 L336.30,289.10 L336.02,289.23 L335.74,289.37 L335.46,289.49 L335.18,289.62 L334.90,289.73 L334.62,289.84 L334.35,289.95 L334.07,290.05 L333.79,290.15 L333.51,290.25 L333.23,290.36 L332.95,290.46 L332.67,290.57 L332.39,290.67 L332.11,290.77 L331.83,290.86 L331.55,290.96 L331.27,291.04 L330.99,291.12 L330.71,291.19 L330.43,291.25 L330.15,291.31 L329.87,291.35 L329.59,291.38 L329.31,291.40 L329.03,291.40 L328.75,291.37 L328.47,291.31 L328.19,291.23 L327.91,291.12 L327.63,290.98 L327.35,290.83 L327.07,290.66 L326.79,290.48 L326.52,290.29 L326.24,290.10 L325.96,289.89 L325.68,289.64 L325.40,289.35 L325.12,289.01 L324.84,288.63 L324.56,288.22 L324.28,287.77 L324.00,287.30 L323.72,286.80 L323.44,286.29 L323.16,285.76 L322.88,285.22 L322.60,284.68 L322.32,284.13 L322.04,283.58 L321.76,283.00 L321.48,282.34 L321.20,281.63 L320.92,280.89 L320.64,280.15 L320.36,279.44 L320.08,278.78 L319.80,278.19 L319.52,277.69 L319.24,277.22 L318.97,276.76 L318.69,276.32 L318.41,275.90 L318.13,275.49 L317.85,275.10 L317.57,274.72 L317.29,274.35 L317.01,274.00 L316.73,273.66 L316.45,273.33 L316.17,273.02 L315.89,272.71 L315.61,272.42 L315.33,272.13 L315.05,271.85 L314.77,271.56 L314.49,271.29 L314.21,271.02 L313.93,270.75 L313.65,270.49 L313.37,270.24 L313.09,270.00 L312.81,269.77 L312.53,269.55 L312.25,269.35 L311.97,269.15 L311.69,268.98 L311.42,268.81 L311.14,268.67 L310.86,268.53 L310.58,268.40 L310.30,268.27 L310.02,268.14 L309.74,268.02 L309.46,267.89 L309.18,267.78 L308.90,267.67 L308.62,267.57 L308.34,267.48 L308.06,267.39 L307.78,267.33 L307.50,267.27 L307.22,267.23 L306.94,267.21 L306.66,267.20 L306.38,267.21 L306.10,267.24 L305.82,267.27 L305.54,267.32 L305.26,267.38 L304.98,267.44 L304.70,267.50 L304.42,267.57 L304.14,267.63 L303.87,267.70 L303.59,267.76 L303.31,267.81 L303.03,267.85 L302.75,267.88 L302.47,267.90 L302.19,267.90 L301.91,267.88 L301.63,267.85 L301.35,267.80 L301.07,267.74 L300.79,267.66 L300.51,267.58 L300.23,267.48 L299.95,267.38 L299.67,267.27 L299.39,267.15 L299.11,267.01 L298.83,266.84 L298.55,266.63 L298.27,266.36 L297.99,266.05 L297.71,265.68 L297.43,265.24 L297.15,264.63 L296.87,263.41 L296.59,261.63 L296.32,259.46 L296.04,257.03 L295.76,254.47 L295.48,250.64 L295.20,246.13 L294.92,242.65 L294.64,241.27 L294.36,240.34 L294.08,239.67 L293.80,239.33 L293.52,239.30 L293.24,239.31 L292.96,239.33 L292.68,239.36 L292.40,239.39 L292.12,239.44 L291.84,239.48 L291.56,239.54 L291.28,239.59 L291.00,239.65 L290.72,239.72 L290.44,239.81 L290.16,239.94 L289.88,240.09 L289.60,240.27 L289.32,240.48 L289.04,240.72 L288.76,240.98 L288.49,241.26 L288.21,241.55 L287.93,241.87 L287.65,242.24 L287.37,242.70 L287.09,243.25 L286.81,243.87 L286.53,244.56 L286.25,245.31 L285.97,246.10 L285.69,246.94 L285.41,247.80 L285.13,248.69 L284.85,249.59 L284.57,250.58 L284.29,251.64 L284.01,252.78 L283.73,253.99 L283.45,255.26 L283.17,256.59 L282.89,257.97 L282.61,259.39 L282.33,260.85 L282.05,262.36 L281.77,264.16 L281.49,266.33 L281.21,268.74 L280.94,271.25 L280.66,273.75 L280.38,276.11 L280.10,278.19 L279.82,279.89 L279.54,281.06 L279.26,281.58 L278.98,281.41 L278.70,280.63 L278.42,279.31 L278.14,277.48 L277.86,275.19 L277.58,272.48 L277.30,269.40 Z" fill="rgba(153,153,153,0.4)" stroke="none"/>
<path d="M277.30,236.40 L277.58,239.45 L277.86,242.29 L278.14,244.84 L278.42,246.97 L278.70,248.57 L278.98,249.55 L279.26,249.79 L279.54,249.57 L279.82,249.08 L280.10,248.35 L280.38,247.44 L280.66,246.39 L280.94,245.25 L281.21,244.06 L281.49,242.87 L281.77,241.72 L282.05,240.66 L282.33,239.67 L282.61,238.64 L282.89,237.59 L283.17,236.50 L283.45,235.40 L283.73,234.26 L284.01,233.10 L284.29,231.92 L284.57,230.72 L284.85,229.52 L285.13,228.30 L285.41,227.08 L285.69,225.87 L285.97,224.66 L286.25,223.46 L286.53,222.28 L286.81,221.07 L287.09,219.80 L287.37,218.50 L287.65,217.20 L287.93,215.93 L288.21,214.70 L288.49,213.54 L288.76,212.47 L289.04,211.53 L289.32,210.74 L289.60,210.00 L289.88,209.25 L290.16,208.52 L290.44,207.82 L290.72,207.17 L291.00,206.58 L291.28,206.09 L291.56,205.70 L291.84,205.43 L292.12,205.31 L292.40,205.37 L292.68,205.65 L292.96,206.13 L293.24,206.73 L293.52,207.43 L293.80,208.19 L294.08,209.38 L294.36,210.98 L294.64,212.87 L294.92,214.91 L295.20,216.98 L295.48,218.93 L295.76,220.66 L296.04,222.16 L296.32,223.63 L296.59,225.05 L296.87,226.36 L297.15,227.55 L297.43,228.59 L297.71,229.59 L297.99,230.53 L298.27,231.34 L298.55,231.97 L298.83,232.37 L299.11,232.69 L299.39,232.96 L299.67,233.20 L299.95,233.40 L300.23,233.59 L300.51,233.76 L300.79,233.93 L301.07,234.10 L301.35,234.26 L301.63,234.41 L301.91,234.54 L302.19,234.67 L302.47,234.79 L302.75,234.91 L303.03,235.03 L303.31,235.14 L303.59,235.26 L303.87,235.38 L304.14,235.51 L304.42,235.65 L304.70,235.80 L304.98,235.96 L305.26,236.14 L305.54,236.34 L305.82,236.56 L306.10,236.80 L306.38,237.05 L306.66,237.32 L306.94,237.60 L307.22,237.89 L307.50,238.19 L307.78,238.49 L308.06,238.80 L308.34,239.12 L308.62,239.43 L308.90,239.74 L309.18,240.05 L309.46,240.35 L309.74,240.65 L310.02,240.95 L310.30,241.25 L310.58,241.56 L310.86,241.87 L311.14,242.19 L311.42,242.51 L311.69,242.83 L311.97,243.15 L312.25,243.47 L312.53,243.79 L312.81,244.12 L313.09,244.44 L313.37,244.76 L313.65,245.08 L313.93,245.39 L314.21,245.71 L314.49,246.02 L314.77,246.33 L315.05,246.63 L315.33,246.93 L315.61,247.22 L315.89,247.50 L316.17,247.78 L316.45,248.05 L316.73,248.32 L317.01,248.59 L317.29,248.87 L317.57,249.15 L317.85,249.44 L318.13,249.74 L318.41,250.05 L318.69,250.37 L318.97,250.70 L319.24,251.04 L319.52,251.39 L319.80,251.73 L320.08,252.08 L320.36,252.42 L320.64,252.75 L320.92,253.08 L321.20,253.39 L321.48,253.69 L321.76,253.97 L322.04,254.24 L322.32,254.50 L322.60,254.76 L322.88,255.02 L323.16,255.27 L323.44,255.53 L323.72,255.78 L324.00,256.01 L324.28,256.24 L324.56,256.46 L324.84,256.65 L325.12,256.84 L325.40,257.00 L325.68,257.14 L325.96,257.25 L326.24,257.34 L326.52,257.43 L326.79,257.51 L327.07,257.60 L327.35,257.67 L327.63,257.75 L327.91,257.82 L328.19,257.88 L328.47,257.93 L328.75,257.98 L329.03,258.03 L329.31,258.06 L329.59,258.08 L329.87,258.10 L330.15,258.10 L330.43,258.10 L330.71,258.09 L330.99,258.08 L331.27,258.07 L331.55,258.06 L331.83,258.05 L332.11,258.03 L332.39,258.01 L332.67,257.99 L332.95,257.96 L333.23,257.94 L333.51,257.91 L333.79,257.88 L334.07,257.85 L334.35,257.81 L334.62,257.78 L334.90,257.75 L335.18,257.71 L335.46,257.68 L335.74,257.64 L336.02,257.60 L336.30,257.56 L336.58,257.52 L336.86,257.48 L337.14,257.45 L337.42,257.41 L337.70,257.37 L337.98,257.33 L338.26,257.29 L338.54,257.25 L338.82,257.21 L339.10,257.17 L339.38,257.12 L339.66,257.07 L339.94,257.02 L340.22,256.97 L340.50,256.91 L340.78,256.86 L341.06,256.80 L341.34,256.74 L341.62,256.68 L341.90,256.61 L342.17,256.55 L342.45,256.48 L342.73,256.42 L343.01,256.35 L343.29,256.28 L343.57,256.21 L343.85,256.14 L344.13,256.07 L344.41,256.00 L344.69,255.93 L344.97,255.86 L345.25,255.78 L345.53,255.71 L345.81,255.64 L346.09,255.57 L346.37,255.49 L346.65,255.42 L346.93,255.35 L347.21,255.28 L347.49,255.21 L347.77,255.13 L348.05,255.06 L348.33,254.99 L348.61,254.92 L348.89,254.85 L349.17,254.78 L349.45,254.71 L349.72,254.63 L350.00,254.56 L350.28,254.48 L350.56,254.41 L350.84,254.33 L351.12,254.26 L351.40,254.18 L351.68,254.10 L351.96,254.02 L352.24,253.94 L352.52,253.86 L352.80,253.79 L353.08,253.71 L353.36,253.63 L353.64,253.55 L353.92,253.47 L354.20,253.39 L354.48,253.31 L354.76,253.23 L355.04,253.15 L355.32,253.07 L355.60,252.99 L355.88,252.91 L356.16,252.84 L356.44,252.76 L356.72,252.68 L357.00,252.60 L357.27,252.53 L357.55,252.45 L357.83,252.38 L358.11,252.30 L358.39,252.23 L358.67,252.15 L358.95,252.08 L359.23,252.01 L359.51,251.94 L359.79,251.87 L360.07,251.79 L360.35,251.72 L360.63,251.65 L360.91,251.58 L361.19,251.51 L361.47,251.44 L361.75,251.37 L362.03,251.30 L362.31,251.23 L362.59,251.16 L362.87,251.09 L363.15,251.02 L363.43,250.95 L363.71,250.88 L363.99,250.81 L364.27,250.74 L364.55,250.67 L364.83,250.60 L365.10,250.53 L365.38,250.46 L365.66,250.40 L365.94,250.33 L366.22,250.26 L366.50,250.19 L366.78,250.12 L367.06,250.05 L367.34,249.99 L367.62,249.92 L367.90,249.85 L368.18,249.78 L368.46,249.72 L368.74,249.65 L369.02,249.58 L369.30,249.51 L369.58,249.45 L369.86,249.38 L370.14,249.31 L370.42,249.24 L370.70,249.18 L370.98,249.11 L371.26,249.04 L371.54,248.97 L371.82,248.91 L372.10,248.84 L372.38,248.77 L372.65,248.70 L372.93,248.63 L373.21,248.56 L373.49,248.50 L373.77,248.43 L374.05,248.36 L374.33,248.29 L374.61,248.22 L374.89,248.16 L375.17,248.09 L375.45,248.02 L375.73,247.96 L376.01,247.89 L376.29,247.83 L376.57,247.76 L376.85,247.70 L377.13,247.64 L377.41,247.58 L377.69,247.51 L377.97,247.45 L378.25,247.39 L378.53,247.34 L378.81,247.28 L379.09,247.22 L379.37,247.16 L379.65,247.11 L379.93,247.05 L380.20,246.99 L380.48,246.93 L380.76,246.88 L381.04,246.82 L381.32,246.77 L381.60,246.71 L381.88,246.65 L382.16,246.60 L382.44,246.55 L382.72,246.49 L383.00,246.44 L383.28,246.38 L383.56,246.33 L383.84,246.28 L384.12,246.23 L384.40,246.18 L384.68,246.13 L384.96,246.08 L385.24,246.03 L385.52,245.98 L385.80,245.94 L386.08,245.89 L386.36,245.85 L386.64,245.80 L386.92,245.76 L387.20,245.72 L387.48,245.67 L387.75,245.63 L388.03,245.60 L388.31,245.56 L388.59,245.52 L388.87,245.48 L389.15,245.45 L389.43,245.41 L389.71,245.38 L389.99,245.35 L390.27,245.31 L390.55,245.28 L390.83,245.25 L391.11,245.22 L391.39,245.19 L391.67,245.16 L391.95,245.13 L392.23,245.10 L392.51,245.07 L392.79,245.04 L393.07,245.01 L393.35,244.98 L393.63,244.95 L393.91,244.92 L394.19,244.89 L394.47,244.86 L394.75,244.83 L395.03,244.79 L395.31,244.76 L395.58,244.72 L395.86,244.69 L396.14,244.65 L396.42,244.61 L396.70,244.58 L396.98,244.54 L397.26,244.50 L397.54,244.47 L397.82,244.43 L398.10,244.40 L398.38,244.36 L398.66,244.33 L398.94,244.30 L399.22,244.27 L399.50,244.24 L399.78,244.22 L400.06,244.19 L400.34,244.17 L400.62,244.15 L400.90,244.14 L401.18,244.12 L401.46,244.11 L401.74,244.10 L402.02,244.10 L402.30,244.10 L402.58,244.10 L402.86,244.11 L403.13,244.12 L403.41,244.13 L403.69,244.14 L403.97,244.16 L404.25,244.18 L404.53,244.20 L404.81,244.22 L405.09,244.25 L405.37,244.27 L405.65,244.30 L405.93,244.33 L406.21,244.36 L406.49,244.40 L406.77,244.43 L407.05,244.47 L407.33,244.50 L407.61,244.54 L407.89,244.57 L408.17,244.61 L408.45,244.65 L408.73,244.69 L409.01,244.73 L409.29,244.76 L409.57,244.80 L409.85,244.84 L410.13,244.88 L410.41,244.91 L410.68,244.95 L410.96,244.99 L411.24,245.04 L411.52,245.08 L411.80,245.13 L412.08,245.18 L412.36,245.23 L412.64,245.28 L412.92,245.33 L413.20,245.38 L413.48,245.44 L413.76,245.50 L414.04,245.55 L414.32,245.61 L414.60,245.67 L414.88,245.73 L415.16,245.79 L415.44,245.85 L415.72,245.92 L416.00,245.98 L416.28,246.04 L416.56,246.10 L416.84,246.16 L417.12,246.22 L417.40,246.29 L417.68,246.35 L417.96,246.41 L418.23,246.47 L418.51,246.53 L418.79,246.59 L419.07,246.64 L419.35,246.70 L419.63,246.75 L419.91,246.81 L420.19,246.86 L420.47,246.91 L420.75,246.97 L421.03,247.02 L421.31,247.07 L421.59,247.13 L421.87,247.18 L422.15,247.24 L422.43,247.30 L422.71,247.36 L422.99,247.41 L423.27,247.47 L423.55,247.53 L423.83,247.59 L424.11,247.65 L424.39,247.70 L424.67,247.76 L424.95,247.82 L425.23,247.87 L425.51,247.93 L425.78,247.98 L426.06,248.03 L426.34,248.08 L426.62,248.13 L426.90,248.18 L427.18,248.23 L427.46,248.27 L427.74,248.32 L428.02,248.36 L428.30,248.39 L428.58,248.43 L428.86,248.46 L429.14,248.49 L429.42,248.52 L429.70,248.55 L429.98,248.57 L430.26,248.59 L430.54,248.60 L430.82,248.62 L431.10,248.63 L431.38,248.64 L431.66,248.66 L431.94,248.67 L432.22,248.68 L432.50,248.70 L432.78,248.71 L433.06,248.72 L433.34,248.73 L433.61,248.74 L433.89,248.76 L434.17,248.77 L434.45,248.78 L434.73,248.79 L435.01,248.80 L435.29,248.81 L435.57,248.82 L435.85,248.83 L436.13,248.84 L436.41,248.85 L436.69,248.86 L436.97,248.87 L437.25,248.88 L437.53,248.89 L437.81,248.89 L438.09,248.90 L438.37,248.91 L438.65,248.92 L438.93,248.92 L439.21,248.93 L439.49,248.94 L439.77,248.94 L440.05,248.95 L440.33,248.96 L440.61,248.96 L440.89,248.97 L441.16,248.97 L441.44,248.97 L441.72,248.98 L442.00,248.98 L442.28,248.99 L442.56,248.99 L442.84,248.99 L443.12,248.99 L443.40,249.00 L443.68,249.00 L443.96,249.00 L444.24,249.00 L444.52,249.00 L444.80,249.00" fill="none" stroke="#3366FF" stroke-width="1.9" stroke-linejoin="round" stroke-linecap="butt"/>
<rect x="269.50" y="165.50" width="184.00" height="132.00" fill="none" stroke="#4A4A4A" stroke-width="1.07"/>
<line x1="267.20" y1="293.00" x2="269.50" y2="293.00" stroke="#4A4A4A" stroke-width="1.07"/>
<text x="265.10" y="295.60" font-size="7.2" fill="#4D4D4D" text-anchor="end">-50</text>
<line x1="267.20" y1="262.70" x2="269.50" y2="262.70" stroke="#4A4A4A" stroke-width="1.07"/>
<text x="265.10" y="265.30" font-size="7.2" fill="#4D4D4D" text-anchor="end">0</text>
<line x1="267.20" y1="232.40" x2="269.50" y2="232.40" stroke="#4A4A4A" stroke-width="1.07"/>
<text x="265.10" y="235.00" font-size="7.2" fill="#4D4D4D" text-anchor="end">50</text>
<line x1="267.20" y1="202.40" x2="269.50" y2="202.40" stroke="#4A4A4A" stroke-width="1.07"/>
<text x="265.10" y="205.00" font-size="7.2" fill="#4D4D4D" text-anchor="end">100</text>
<line x1="267.20" y1="171.90" x2="269.50" y2="171.90" stroke="#4A4A4A" stroke-width="1.07"/>
<text x="265.10" y="174.50" font-size="7.2" fill="#4D4D4D" text-anchor="end">150</text>
<line x1="275.60" y1="297.50" x2="275.60" y2="299.80" stroke="#4A4A4A" stroke-width="1.07"/>
<text x="275.60" y="306.90" font-size="7.2" fill="#4D4D4D" text-anchor="middle">0</text>
<line x1="321.90" y1="297.50" x2="321.90" y2="299.80" stroke="#4A4A4A" stroke-width="1.07"/>
<text x="321.90" y="306.90" font-size="7.2" fill="#4D4D4D" text-anchor="middle">200</text>
<line x1="368.10" y1="297.50" x2="368.10" y2="299.80" stroke="#4A4A4A" stroke-width="1.07"/>
<text x="368.10" y="306.90" font-size="7.2" fill="#4D4D4D" text-anchor="middle">400</text>
<line x1="414.40" y1="297.50" x2="414.40" y2="299.80" stroke="#4A4A4A" stroke-width="1.07"/>
<text x="414.40" y="306.90" font-size="7.2" fill="#4D4D4D" text-anchor="middle">600</text>
<text transform="translate(238.00,232.55) rotate(-90)" font-size="8.85" fill="#000" text-anchor="middle">Total Abundance</text>
<text transform="translate(248.80,236.55) rotate(-90)" font-size="8.85" fill="#000" text-anchor="middle">(number of individuals)</text>
<text x="359.75" y="319.20" font-size="8.85" fill="#000" text-anchor="middle">Mn (mg/Kg)</text>
<text x="234.80" y="172.60" font-size="10.8" font-weight="bold" fill="#000" letter-spacing="0.55">e)</text>
<text x="245.80" y="173.50" font-size="13.2" font-weight="bold" fill="#000">*</text>
</g>
<g clip-path="url(#c5)">
<circle cx="503.80" cy="192.30" r="2.0" fill="#000"/>
<circle cx="520.70" cy="210.80" r="2.0" fill="#000"/>
<circle cx="503.80" cy="218.90" r="2.0" fill="#000"/>
<circle cx="579.20" cy="171.80" r="2.0" fill="#000"/>
<circle cx="579.20" cy="209.70" r="2.0" fill="#000"/>
<circle cx="503.70" cy="252.80" r="2.0" fill="#000"/>
<circle cx="504.00" cy="254.00" r="2.0" fill="#000"/>
<circle cx="503.70" cy="261.10" r="2.0" fill="#000"/>
<circle cx="503.70" cy="267.20" r="2.0" fill="#000"/>
<circle cx="507.80" cy="270.20" r="2.0" fill="#000"/>
<circle cx="520.20" cy="263.10" r="2.0" fill="#000"/>
<circle cx="503.70" cy="286.80" r="2.0" fill="#000"/>
<circle cx="508.20" cy="287.90" r="2.0" fill="#000"/>
<circle cx="675.10" cy="249.50" r="2.0" fill="#000"/>
<circle cx="675.10" cy="278.50" r="2.0" fill="#000"/>
<path d="M504.00,227.37 L506.90,227.68 L509.80,227.96 L512.70,228.19 L515.60,228.39 L518.50,228.55 L521.40,228.66 L524.30,228.73 L527.20,228.76 L530.10,228.73 L533.00,228.66 L535.90,228.54 L538.80,228.36 L541.70,228.14 L544.60,227.87 L547.50,227.55 L550.40,227.18 L553.30,226.76 L556.20,226.31 L559.10,225.80 L562.00,225.26 L564.90,224.68 L567.80,224.07 L570.70,223.42 L573.60,222.73 L576.50,222.02 L579.40,221.28 L582.30,220.51 L585.20,219.72 L588.10,218.91 L591.00,218.08 L593.90,217.22 L596.80,216.35 L599.70,215.46 L602.60,214.56 L605.50,213.64 L608.40,212.71 L611.30,211.77 L614.20,210.81 L617.10,209.85 L620.00,208.87 L622.90,207.89 L625.80,206.90 L628.70,205.90 L631.60,204.89 L634.50,203.87 L637.40,202.85 L640.30,201.82 L643.20,200.79 L646.10,199.75 L649.00,198.71 L651.90,197.66 L654.80,196.60 L657.70,195.55 L660.60,194.48 L663.50,193.42 L666.40,192.35 L669.30,191.28 L672.20,190.20 L675.10,189.12 L675.10,291.28 L672.20,290.53 L669.30,289.79 L666.40,289.05 L663.50,288.31 L660.60,287.58 L657.70,286.85 L654.80,286.12 L651.90,285.40 L649.00,284.68 L646.10,283.97 L643.20,283.27 L640.30,282.56 L637.40,281.87 L634.50,281.18 L631.60,280.49 L628.70,279.82 L625.80,279.15 L622.90,278.49 L620.00,277.84 L617.10,277.19 L614.20,276.56 L611.30,275.94 L608.40,275.33 L605.50,274.73 L602.60,274.14 L599.70,273.57 L596.80,273.02 L593.90,272.48 L591.00,271.96 L588.10,271.46 L585.20,270.98 L582.30,270.52 L579.40,270.08 L576.50,269.67 L573.60,269.29 L570.70,268.94 L567.80,268.63 L564.90,268.34 L562.00,268.09 L559.10,267.88 L556.20,267.71 L553.30,267.59 L550.40,267.51 L547.50,267.47 L544.60,267.48 L541.70,267.54 L538.80,267.65 L535.90,267.81 L533.00,268.02 L530.10,268.28 L527.20,268.59 L524.30,268.94 L521.40,269.34 L518.50,269.79 L515.60,270.28 L512.70,270.81 L509.80,271.38 L506.90,271.99 L504.00,272.63 Z" fill="rgba(153,153,153,0.4)" stroke="none"/>
<path d="M504.00,249.50 L675.10,239.70" fill="none" stroke="#3366FF" stroke-width="1.9" stroke-linejoin="round" stroke-linecap="butt"/>
<rect x="495.50" y="165.50" width="188.00" height="132.00" fill="none" stroke="#4A4A4A" stroke-width="1.07"/>
<line x1="493.20" y1="287.60" x2="495.50" y2="287.60" stroke="#4A4A4A" stroke-width="1.07"/>
<text x="491.10" y="290.20" font-size="7.2" fill="#4D4D4D" text-anchor="end">0</text>
<line x1="493.20" y1="256.80" x2="495.50" y2="256.80" stroke="#4A4A4A" stroke-width="1.07"/>
<text x="491.10" y="259.40" font-size="7.2" fill="#4D4D4D" text-anchor="end">30</text>
<line x1="493.20" y1="226.20" x2="495.50" y2="226.20" stroke="#4A4A4A" stroke-width="1.07"/>
<text x="491.10" y="228.80" font-size="7.2" fill="#4D4D4D" text-anchor="end">60</text>
<line x1="493.20" y1="195.20" x2="495.50" y2="195.20" stroke="#4A4A4A" stroke-width="1.07"/>
<text x="491.10" y="197.80" font-size="7.2" fill="#4D4D4D" text-anchor="end">90</text>
<line x1="503.60" y1="297.50" x2="503.60" y2="299.80" stroke="#4A4A4A" stroke-width="1.07"/>
<text x="503.60" y="306.90" font-size="7.2" fill="#4D4D4D" text-anchor="middle">0.0</text>
<line x1="545.60" y1="297.50" x2="545.60" y2="299.80" stroke="#4A4A4A" stroke-width="1.07"/>
<text x="545.60" y="306.90" font-size="7.2" fill="#4D4D4D" text-anchor="middle">0.1</text>
<line x1="587.30" y1="297.50" x2="587.30" y2="299.80" stroke="#4A4A4A" stroke-width="1.07"/>
<text x="587.30" y="306.90" font-size="7.2" fill="#4D4D4D" text-anchor="middle">0.2</text>
<line x1="629.20" y1="297.50" x2="629.20" y2="299.80" stroke="#4A4A4A" stroke-width="1.07"/>
<text x="629.20" y="306.90" font-size="7.2" fill="#4D4D4D" text-anchor="middle">0.3</text>
<line x1="671.00" y1="297.50" x2="671.00" y2="299.80" stroke="#4A4A4A" stroke-width="1.07"/>
<text x="671.00" y="306.90" font-size="7.2" fill="#4D4D4D" text-anchor="middle">0.4</text>
<text transform="translate(468.40,232.55) rotate(-90)" font-size="8.85" fill="#000" text-anchor="middle">Total Abundance</text>
<text transform="translate(478.60,236.55) rotate(-90)" font-size="8.85" fill="#000" text-anchor="middle">(number of individuals)</text>
<text x="595.00" y="319.30" font-size="8.85" fill="#000" text-anchor="middle">As (mg/Kg)</text>
<text x="461.60" y="172.60" font-size="10.8" font-weight="bold" fill="#000" letter-spacing="0.55">f)</text>
</g>
<g clip-path="url(#c6)">
<line x1="85.95" y1="334.10" x2="85.95" y2="374.30" stroke="#4A4A4A" stroke-width="1.07"/>
<line x1="85.95" y1="432.70" x2="85.95" y2="452.90" stroke="#4A4A4A" stroke-width="1.07"/>
<rect x="53.70" y="374.30" width="64.40" height="58.40" fill="#000080" stroke="#404040" stroke-width="1.07"/>
<line x1="53.70" y1="417.10" x2="118.10" y2="417.10" stroke="#333333" stroke-width="2.0"/>
<line x1="171.50" y1="383.30" x2="171.50" y2="409.50" stroke="#4A4A4A" stroke-width="1.07"/>
<line x1="171.50" y1="440.30" x2="171.50" y2="454.10" stroke="#4A4A4A" stroke-width="1.07"/>
<rect x="139.30" y="409.50" width="64.30" height="30.80" fill="#FFFF00" stroke="#404040" stroke-width="1.07"/>
<line x1="139.30" y1="429.80" x2="203.60" y2="429.80" stroke="#333333" stroke-width="2.0"/>
<circle cx="171.60" cy="355.50" r="1.85" fill="#333"/>
<rect x="34.50" y="328.50" width="188.70" height="132.00" fill="none" stroke="#4A4A4A" stroke-width="1.07"/>
<line x1="32.20" y1="454.40" x2="34.50" y2="454.40" stroke="#4A4A4A" stroke-width="1.07"/>
<text x="30.10" y="457.00" font-size="7.2" fill="#4D4D4D" text-anchor="end">0</text>
<line x1="32.20" y1="422.60" x2="34.50" y2="422.60" stroke="#4A4A4A" stroke-width="1.07"/>
<text x="30.10" y="425.20" font-size="7.2" fill="#4D4D4D" text-anchor="end">30</text>
<line x1="32.20" y1="390.70" x2="34.50" y2="390.70" stroke="#4A4A4A" stroke-width="1.07"/>
<text x="30.10" y="393.30" font-size="7.2" fill="#4D4D4D" text-anchor="end">60</text>
<line x1="32.20" y1="358.80" x2="34.50" y2="358.80" stroke="#4A4A4A" stroke-width="1.07"/>
<text x="30.10" y="361.40" font-size="7.2" fill="#4D4D4D" text-anchor="end">90</text>
<line x1="85.95" y1="460.50" x2="85.95" y2="462.80" stroke="#4A4A4A" stroke-width="1.07"/>
<text x="87.15" y="469.90" font-size="7.2" fill="#4D4D4D" text-anchor="middle">Rainy</text>
<line x1="171.50" y1="460.50" x2="171.50" y2="462.80" stroke="#4A4A4A" stroke-width="1.07"/>
<text x="171.50" y="469.90" font-size="7.2" fill="#4D4D4D" text-anchor="middle">Dry</text>
<text transform="translate(8.10,395.55) rotate(-90)" font-size="8.85" fill="#000" text-anchor="middle">Total Abundance</text>
<text transform="translate(18.30,399.55) rotate(-90)" font-size="8.85" fill="#000" text-anchor="middle">(number of individuals)</text>
<text x="131.90" y="479.70" font-size="8.85" fill="#000" text-anchor="middle">Season</text>
<text x="2.80" y="336.40" font-size="10.8" font-weight="bold" fill="#000" letter-spacing="0.55">g)</text>
</g>
<g clip-path="url(#c7)">
<line x1="316.40" y1="355.60" x2="316.40" y2="404.90" stroke="#4A4A4A" stroke-width="1.07"/>
<line x1="316.40" y1="447.10" x2="316.40" y2="454.20" stroke="#4A4A4A" stroke-width="1.07"/>
<rect x="284.10" y="404.90" width="64.70" height="42.20" fill="#8B0000" stroke="#404040" stroke-width="1.07"/>
<line x1="284.10" y1="432.70" x2="348.80" y2="432.70" stroke="#333333" stroke-width="2.0"/>
<line x1="402.00" y1="334.40" x2="402.00" y2="380.50" stroke="#4A4A4A" stroke-width="1.07"/>
<line x1="402.00" y1="428.30" x2="402.00" y2="452.90" stroke="#4A4A4A" stroke-width="1.07"/>
<rect x="369.50" y="380.50" width="64.90" height="47.80" fill="#006400" stroke="#404040" stroke-width="1.07"/>
<line x1="369.50" y1="418.70" x2="434.40" y2="418.70" stroke="#333333" stroke-width="2.0"/>
<rect x="265.00" y="328.50" width="188.50" height="132.00" fill="none" stroke="#4A4A4A" stroke-width="1.07"/>
<line x1="262.70" y1="454.20" x2="265.00" y2="454.20" stroke="#4A4A4A" stroke-width="1.07"/>
<text x="260.60" y="456.80" font-size="7.2" fill="#4D4D4D" text-anchor="end">0</text>
<line x1="262.70" y1="422.20" x2="265.00" y2="422.20" stroke="#4A4A4A" stroke-width="1.07"/>
<text x="260.60" y="424.80" font-size="7.2" fill="#4D4D4D" text-anchor="end">30</text>
<line x1="262.70" y1="390.70" x2="265.00" y2="390.70" stroke="#4A4A4A" stroke-width="1.07"/>
<text x="260.60" y="393.30" font-size="7.2" fill="#4D4D4D" text-anchor="end">60</text>
<line x1="262.70" y1="358.70" x2="265.00" y2="358.70" stroke="#4A4A4A" stroke-width="1.07"/>
<text x="260.60" y="361.30" font-size="7.2" fill="#4D4D4D" text-anchor="end">90</text>
<line x1="316.40" y1="460.50" x2="316.40" y2="462.80" stroke="#4A4A4A" stroke-width="1.07"/>
<text x="316.40" y="469.90" font-size="7.2" fill="#4D4D4D" text-anchor="middle">Impacted</text>
<line x1="402.00" y1="460.50" x2="402.00" y2="462.80" stroke="#4A4A4A" stroke-width="1.07"/>
<text x="402.00" y="469.90" font-size="7.2" fill="#4D4D4D" text-anchor="middle">Control</text>
<text transform="translate(238.00,395.55) rotate(-90)" font-size="8.85" fill="#000" text-anchor="middle">Total Abundance</text>
<text transform="translate(248.80,399.55) rotate(-90)" font-size="8.85" fill="#000" text-anchor="middle">(number of individuals)</text>
<text x="362.90" y="481.70" font-size="8.85" fill="#000" text-anchor="middle">Mining</text>
<text x="235.20" y="336.20" font-size="10.8" font-weight="bold" fill="#000" letter-spacing="0.55">h)</text>
<text x="246.20" y="337.10" font-size="13.2" font-weight="bold" fill="#000">*</text>
</g>
<g clip-path="url(#c8)">
<rect x="495.3" y="328.5" width="92.10" height="13.60" fill="#D9D9D9" stroke="#4A4A4A" stroke-width="1.07"/>
<rect x="591.7" y="328.5" width="91.80" height="13.60" fill="#D9D9D9" stroke="#4A4A4A" stroke-width="1.07"/>
<text x="541.0" y="336.8" font-size="7.2" fill="#1A1A1A" text-anchor="middle">Impacted</text>
<text x="639.5" y="336.8" font-size="7.2" fill="#1A1A1A" text-anchor="middle">Control</text>
<line x1="520.30" y1="384.10" x2="520.30" y2="410.40" stroke="#4A4A4A" stroke-width="1.07"/>
<line x1="520.30" y1="435.70" x2="520.30" y2="446.40" stroke="#4A4A4A" stroke-width="1.07"/>
<rect x="504.50" y="410.40" width="31.50" height="25.30" fill="#FF8C00" stroke="#404040" stroke-width="1.07"/>
<line x1="504.50" y1="426.00" x2="536.00" y2="426.00" stroke="#333333" stroke-width="2.0"/>
<line x1="562.10" y1="420.70" x2="562.10" y2="420.70" stroke="#4A4A4A" stroke-width="1.07"/>
<line x1="562.10" y1="454.50" x2="562.10" y2="454.50" stroke="#4A4A4A" stroke-width="1.07"/>
<rect x="546.50" y="420.70" width="31.10" height="33.80" fill="#00CD66" stroke="#404040" stroke-width="1.07"/>
<line x1="546.50" y1="446.40" x2="577.60" y2="446.40" stroke="#333333" stroke-width="2.0"/>
<circle cx="562.10" cy="366.60" r="1.85" fill="#333"/>
<line x1="616.90" y1="348.10" x2="616.90" y2="374.00" stroke="#4A4A4A" stroke-width="1.07"/>
<line x1="616.90" y1="431.20" x2="616.90" y2="453.70" stroke="#4A4A4A" stroke-width="1.07"/>
<rect x="601.30" y="374.00" width="31.30" height="57.20" fill="#FF3030" stroke="#404040" stroke-width="1.07"/>
<line x1="601.30" y1="403.20" x2="632.60" y2="403.20" stroke="#333333" stroke-width="2.0"/>
<line x1="658.60" y1="391.20" x2="658.60" y2="414.90" stroke="#4A4A4A" stroke-width="1.07"/>
<line x1="658.60" y1="431.70" x2="658.60" y2="436.00" stroke="#4A4A4A" stroke-width="1.07"/>
<rect x="642.90" y="414.90" width="31.80" height="16.80" fill="#6A5ACD" stroke="#404040" stroke-width="1.07"/>
<line x1="642.90" y1="426.30" x2="674.70" y2="426.30" stroke="#333333" stroke-width="2.0"/>
<rect x="495.30" y="342.10" width="92.10" height="118.40" fill="none" stroke="#4A4A4A" stroke-width="1.07"/>
<rect x="591.70" y="342.10" width="91.80" height="118.40" fill="none" stroke="#4A4A4A" stroke-width="1.07"/>
<line x1="493.00" y1="455.10" x2="495.30" y2="455.10" stroke="#4A4A4A" stroke-width="1.07"/>
<text x="490.90" y="457.70" font-size="7.2" fill="#4D4D4D" text-anchor="end">0</text>
<line x1="493.00" y1="426.50" x2="495.30" y2="426.50" stroke="#4A4A4A" stroke-width="1.07"/>
<text x="490.90" y="429.10" font-size="7.2" fill="#4D4D4D" text-anchor="end">30</text>
<line x1="493.00" y1="398.20" x2="495.30" y2="398.20" stroke="#4A4A4A" stroke-width="1.07"/>
<text x="490.90" y="400.80" font-size="7.2" fill="#4D4D4D" text-anchor="end">60</text>
<line x1="493.00" y1="369.80" x2="495.30" y2="369.80" stroke="#4A4A4A" stroke-width="1.07"/>
<text x="490.90" y="372.40" font-size="7.2" fill="#4D4D4D" text-anchor="end">90</text>
<line x1="520.30" y1="460.50" x2="520.30" y2="462.80" stroke="#4A4A4A" stroke-width="1.07"/>
<text x="521.50" y="469.90" font-size="7.2" fill="#4D4D4D" text-anchor="middle">Rainy</text>
<line x1="562.10" y1="460.50" x2="562.10" y2="462.80" stroke="#4A4A4A" stroke-width="1.07"/>
<text x="562.70" y="469.90" font-size="7.2" fill="#4D4D4D" text-anchor="middle">Dry</text>
<line x1="616.90" y1="460.50" x2="616.90" y2="462.80" stroke="#4A4A4A" stroke-width="1.07"/>
<text x="617.90" y="469.90" font-size="7.2" fill="#4D4D4D" text-anchor="middle">Rainy</text>
<line x1="658.60" y1="460.50" x2="658.60" y2="462.80" stroke="#4A4A4A" stroke-width="1.07"/>
<text x="658.90" y="469.90" font-size="7.2" fill="#4D4D4D" text-anchor="middle">Dry</text>
<text transform="translate(468.40,402.80) rotate(-90)" font-size="8.85" fill="#000" text-anchor="middle">Total Abundance</text>
<text transform="translate(478.60,406.80) rotate(-90)" font-size="8.85" fill="#000" text-anchor="middle">(number of individuals)</text>
<text x="595.70" y="480.50" font-size="8.85" fill="#000" text-anchor="middle">Season</text>
<text x="461.20" y="336.40" font-size="10.8" font-weight="bold" fill="#000" letter-spacing="0.55">i)</text>
</g>
</svg></body></html>
